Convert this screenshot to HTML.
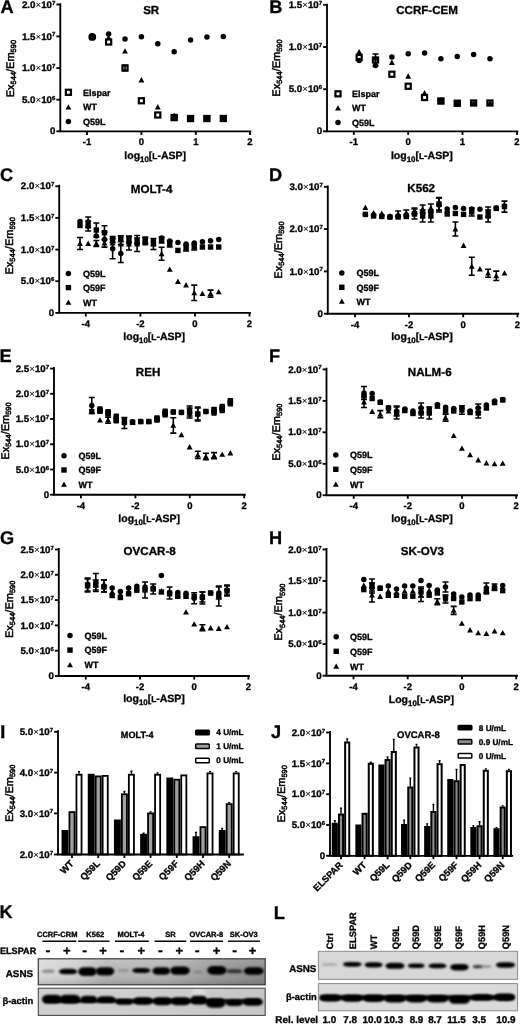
<!DOCTYPE html>
<html lang="en">
<head>
<meta charset="utf-8">
<title>Figure</title>
<style>
html,body{margin:0;padding:0;background:#fff;}
body{width:520px;height:1024px;overflow:hidden;}
svg.fig{display:block;font-family:"Liberation Sans",sans-serif;filter:blur(.45px);}
svg.fig text{stroke:#000;stroke-width:.32px;stroke-linejoin:round;}
svg.fig text.r{stroke-width:.5px;}
svg.fig tspan.x{stroke:none;}
</style>
</head>
<body>
<svg width="520" height="1024" viewBox="0 0 520 1024" class="fig" fill="#000" text-rendering="geometricPrecision">
<rect width="520" height="1024" fill="#fff"/>
<defs>
<filter id="b1" x="-20%" y="-60%" width="140%" height="220%"><feGaussianBlur stdDeviation="1.15 0.85"/></filter>
<filter id="b2" x="-20%" y="-60%" width="140%" height="220%"><feGaussianBlur stdDeviation="1.5 1.0"/></filter>
<linearGradient id="gK1" x1="0" x2="1" y1="0" y2="0"><stop offset="0" stop-color="#d9d9d9"/><stop offset="0.15" stop-color="#d0d0d0"/><stop offset="0.3" stop-color="#b6b6b6"/><stop offset="0.55" stop-color="#b2b2b2"/><stop offset="0.8" stop-color="#969696"/><stop offset="1" stop-color="#888888"/></linearGradient>
<linearGradient id="gKv" x1="0" x2="0" y1="0" y2="1"><stop offset="0" stop-color="#fff" stop-opacity="0.18"/><stop offset="0.5" stop-color="#fff" stop-opacity="0"/><stop offset="1" stop-color="#000" stop-opacity="0.16"/></linearGradient>
<linearGradient id="gK2" x1="0" x2="1" y1="0" y2="0"><stop offset="0" stop-color="#cfcfcf"/><stop offset="0.5" stop-color="#cdcdcd"/><stop offset="1" stop-color="#c6c6c6"/></linearGradient>
<clipPath id="cK1"><rect x="38.3" y="958.8" width="226.9" height="26"/></clipPath>
<clipPath id="cK2"><rect x="38.3" y="988.2" width="226.9" height="27.2"/></clipPath>
<clipPath id="cL1"><rect x="318.4" y="951.3" width="199.2" height="28"/></clipPath>
<clipPath id="cL2"><rect x="318.4" y="983.6" width="199.2" height="27.2"/></clipPath>
</defs>
<g>
<path d="M60.3 4.2V131.3H250.4" fill="none" stroke="#000" stroke-width="1.85" stroke-linecap="square"/>
<path d="M56.4 4.5H60.3" stroke="#000" stroke-width="1.85"/>
<text transform="translate(55.4 7.63) scale(1.025 1)" font-size="9.5" font-weight="bold" text-anchor="end">2.0<tspan class="x" font-weight="normal">×</tspan>10<tspan dy="-3.14" font-size="5.89">7</tspan></text>
<path d="M56.4 36.4H60.3" stroke="#000" stroke-width="1.85"/>
<text transform="translate(55.4 39.53) scale(1.025 1)" font-size="9.5" font-weight="bold" text-anchor="end">1.5<tspan class="x" font-weight="normal">×</tspan>10<tspan dy="-3.14" font-size="5.89">7</tspan></text>
<path d="M56.4 68.1H60.3" stroke="#000" stroke-width="1.85"/>
<text transform="translate(55.4 71.23) scale(1.025 1)" font-size="9.5" font-weight="bold" text-anchor="end">1.0<tspan class="x" font-weight="normal">×</tspan>10<tspan dy="-3.14" font-size="5.89">7</tspan></text>
<path d="M56.4 99.7H60.3" stroke="#000" stroke-width="1.85"/>
<text transform="translate(55.4 102.84) scale(1.025 1)" font-size="9.5" font-weight="bold" text-anchor="end">5.0<tspan class="x" font-weight="normal">×</tspan>10<tspan dy="-3.14" font-size="5.89">6</tspan></text>
<path d="M56.4 131.3H60.3" stroke="#000" stroke-width="1.85"/>
<text transform="translate(55.4 134.44) scale(1.025 1)" font-size="9.5" font-weight="bold" text-anchor="end">0</text>
<path d="M87 131.3V134.9" stroke="#000" stroke-width="1.85"/>
<text x="87" y="145.2" font-size="9.5" font-weight="bold" text-anchor="middle">-1</text>
<path d="M141.4 131.3V134.9" stroke="#000" stroke-width="1.85"/>
<text x="141.4" y="145.2" font-size="9.5" font-weight="bold" text-anchor="middle">0</text>
<path d="M195.8 131.3V134.9" stroke="#000" stroke-width="1.85"/>
<text x="195.8" y="145.2" font-size="9.5" font-weight="bold" text-anchor="middle">1</text>
<path d="M250 131.3V134.9" stroke="#000" stroke-width="1.85"/>
<text x="250" y="145.2" font-size="9.5" font-weight="bold" text-anchor="middle">2</text>
<text x="0.4" y="13.2" font-size="18.2" font-weight="bold" text-anchor="start">A</text>
<text x="151.2" y="13.8" font-size="11.6" font-weight="bold" text-anchor="middle">SR</text>
<text transform="translate(13.6 68.6) rotate(-90)" class="r" font-size="11" font-weight="normal" text-anchor="middle">Ex<tspan dy="2.2" font-size="7.48">544</tspan><tspan dy="-2.2">/Em</tspan><tspan dy="2.2" font-size="7.48">590</tspan></text>
<text x="155.2" y="158.8" font-size="10.5" font-weight="bold" text-anchor="middle">log<tspan dy="2.83" font-size="7.88">10</tspan><tspan dy="-2.83">[</tspan><tspan font-size="8.4">L</tspan>-ASP]</text>
<rect x="65.85" y="89.75" width="5.1" height="5.1" fill="none" stroke="#000" stroke-width="2.2"/>
<text x="83" y="95.5" font-size="9" font-weight="bold" text-anchor="start">Elspar</text>
<path d="M68.4 104.28L71.35 109.59L65.45 109.59Z"/>
<text x="83" y="110.4" font-size="9" font-weight="bold" text-anchor="start">WT</text>
<circle cx="68.4" cy="121.5" r="2.75"/>
<text x="83" y="124.7" font-size="9" font-weight="bold" text-anchor="start">Q59L</text>
<circle cx="92.26" cy="36.8" r="2.75"/>
<circle cx="108.64" cy="34" r="2.75"/>
<circle cx="125.02" cy="39" r="2.75"/>
<circle cx="141.4" cy="36.75" r="2.75"/>
<circle cx="157.78" cy="43.75" r="2.75"/>
<circle cx="174.16" cy="51.75" r="2.75"/>
<circle cx="190.54" cy="40" r="2.75"/>
<circle cx="206.92" cy="37" r="2.75"/>
<circle cx="223.3" cy="36.5" r="2.75"/>
<path d="M92.26 33.69L95.21 38.98L89.31 38.98Z"/>
<path d="M108.64 34.59L111.59 39.88L105.69 39.88Z"/>
<path d="M125.02 48.29L127.97 53.59L122.07 53.59Z"/>
<path d="M141.4 77.08L144.35 82.39L138.45 82.39Z"/>
<path d="M157.78 104.08L160.73 109.39L154.83 109.39Z"/>
<path d="M174.16 112.58L177.11 117.89L171.21 117.89Z"/>
<path d="M190.54 115.58L193.49 120.89L187.59 120.89Z"/>
<path d="M206.92 115.58L209.87 120.89L203.97 120.89Z"/>
<path d="M223.3 115.58L226.25 120.89L220.35 120.89Z"/>
<path d="M125.02 65.4V70.6M122.02 65.4H128.02M122.02 70.6H128.02" fill="none" stroke="#000" stroke-width="1.6"/>
<rect x="106.09" y="39.45" width="5.1" height="5.1" fill="none" stroke="#000" stroke-width="2.2"/>
<rect x="122.47" y="65.45" width="5.1" height="5.1" fill="none" stroke="#000" stroke-width="2.2"/>
<rect x="138.85" y="98.2" width="5.1" height="5.1" fill="none" stroke="#000" stroke-width="2.2"/>
<rect x="155.23" y="112.45" width="5.1" height="5.1" fill="none" stroke="#000" stroke-width="2.2"/>
<rect x="171.61" y="114.95" width="5.1" height="5.1" fill="none" stroke="#000" stroke-width="2.2"/>
<rect x="187.99" y="115.95" width="5.1" height="5.1" fill="none" stroke="#000" stroke-width="2.2"/>
<rect x="204.37" y="115.95" width="5.1" height="5.1" fill="none" stroke="#000" stroke-width="2.2"/>
<rect x="220.75" y="115.95" width="5.1" height="5.1" fill="none" stroke="#000" stroke-width="2.2"/>
<circle cx="92.26" cy="36.9" r="3.9"/>
<rect x="170.86" y="114.5" width="6.6" height="6.6"/>
<rect x="187.24" y="115.2" width="6.6" height="6.6"/>
<rect x="203.62" y="115.2" width="6.6" height="6.6"/>
<rect x="220" y="115.2" width="6.6" height="6.6"/>
</g>
<g>
<path d="M327 4.6V131.3H517.4" fill="none" stroke="#000" stroke-width="1.85" stroke-linecap="square"/>
<path d="M323.1 4.8H327" stroke="#000" stroke-width="1.85"/>
<text transform="translate(322.1 7.94) scale(1.025 1)" font-size="9.5" font-weight="bold" text-anchor="end">1.5<tspan class="x" font-weight="normal">×</tspan>10<tspan dy="-3.14" font-size="5.89">7</tspan></text>
<path d="M323.1 47H327" stroke="#000" stroke-width="1.85"/>
<text transform="translate(322.1 50.13) scale(1.025 1)" font-size="9.5" font-weight="bold" text-anchor="end">1.0<tspan class="x" font-weight="normal">×</tspan>10<tspan dy="-3.14" font-size="5.89">7</tspan></text>
<path d="M323.1 89.2H327" stroke="#000" stroke-width="1.85"/>
<text transform="translate(322.1 92.34) scale(1.025 1)" font-size="9.5" font-weight="bold" text-anchor="end">5.0<tspan class="x" font-weight="normal">×</tspan>10<tspan dy="-3.14" font-size="5.89">6</tspan></text>
<path d="M323.1 131.3H327" stroke="#000" stroke-width="1.85"/>
<text transform="translate(322.1 134.44) scale(1.025 1)" font-size="9.5" font-weight="bold" text-anchor="end">0</text>
<path d="M353.8 131.3V134.9" stroke="#000" stroke-width="1.85"/>
<text x="353.8" y="145.2" font-size="9.5" font-weight="bold" text-anchor="middle">-1</text>
<path d="M408.2 131.3V134.9" stroke="#000" stroke-width="1.85"/>
<text x="408.2" y="145.2" font-size="9.5" font-weight="bold" text-anchor="middle">0</text>
<path d="M462.5 131.3V134.9" stroke="#000" stroke-width="1.85"/>
<text x="462.5" y="145.2" font-size="9.5" font-weight="bold" text-anchor="middle">1</text>
<path d="M517 131.3V134.9" stroke="#000" stroke-width="1.85"/>
<text x="517" y="145.2" font-size="9.5" font-weight="bold" text-anchor="middle">2</text>
<text x="269.2" y="12.6" font-size="18.2" font-weight="bold" text-anchor="start">B</text>
<text x="427.1" y="13.6" font-size="11.6" font-weight="bold" text-anchor="middle">CCRF-CEM</text>
<text transform="translate(280 68) rotate(-90)" class="r" font-size="11" font-weight="normal" text-anchor="middle">Ex<tspan dy="2.2" font-size="7.48">544</tspan><tspan dy="-2.2">/Em</tspan><tspan dy="2.2" font-size="7.48">590</tspan></text>
<text x="421.8" y="158.8" font-size="10.5" font-weight="bold" text-anchor="middle">log<tspan dy="2.83" font-size="7.88">10</tspan><tspan dy="-2.83">[</tspan><tspan font-size="8.4">L</tspan>-ASP]</text>
<rect x="335.45" y="91.25" width="5.1" height="5.1" fill="none" stroke="#000" stroke-width="2.2"/>
<text x="352" y="97" font-size="9" font-weight="bold" text-anchor="start">Elspar</text>
<path d="M338 105.28L340.95 110.59L335.05 110.59Z"/>
<text x="352" y="111.4" font-size="9" font-weight="bold" text-anchor="start">WT</text>
<circle cx="338" cy="122.5" r="2.75"/>
<text x="352" y="125.7" font-size="9" font-weight="bold" text-anchor="start">Q59L</text>
<circle cx="359.15" cy="60.5" r="2.75"/>
<circle cx="375.5" cy="65.5" r="2.75"/>
<circle cx="391.85" cy="57" r="2.75"/>
<circle cx="408.2" cy="53.75" r="2.75"/>
<circle cx="424.55" cy="53" r="2.75"/>
<circle cx="440.9" cy="58.75" r="2.75"/>
<circle cx="457.25" cy="56.5" r="2.75"/>
<circle cx="473.6" cy="54.5" r="2.75"/>
<circle cx="489.95" cy="58.75" r="2.75"/>
<path d="M359.15 48.88L362.1 54.18L356.2 54.18Z"/>
<path d="M375.5 55.09L378.45 60.38L372.55 60.38Z"/>
<path d="M391.85 59.59L394.8 64.89L388.9 64.89Z"/>
<path d="M408.2 73.33L411.15 78.64L405.25 78.64Z"/>
<path d="M424.55 90.08L427.5 95.39L421.6 95.39Z"/>
<path d="M440.9 98.58L443.85 103.89L437.95 103.89Z"/>
<path d="M457.25 100.08L460.2 105.39L454.3 105.39Z"/>
<path d="M473.6 100.08L476.55 105.39L470.65 105.39Z"/>
<path d="M489.95 100.08L492.9 105.39L487 105.39Z"/>
<path d="M375.5 54V66M372.5 54H378.5M372.5 66H378.5" fill="none" stroke="#000" stroke-width="1.6"/>
<rect x="356.6" y="54.95" width="5.1" height="5.1" fill="none" stroke="#000" stroke-width="2.2"/>
<rect x="372.95" y="57.45" width="5.1" height="5.1" fill="none" stroke="#000" stroke-width="2.2"/>
<rect x="389.3" y="71.7" width="5.1" height="5.1" fill="none" stroke="#000" stroke-width="2.2"/>
<rect x="405.65" y="83.7" width="5.1" height="5.1" fill="none" stroke="#000" stroke-width="2.2"/>
<rect x="422" y="94.95" width="5.1" height="5.1" fill="none" stroke="#000" stroke-width="2.2"/>
<rect x="438.35" y="98.45" width="5.1" height="5.1" fill="none" stroke="#000" stroke-width="2.2"/>
<rect x="454.7" y="100.7" width="5.1" height="5.1" fill="none" stroke="#000" stroke-width="2.2"/>
<rect x="471.05" y="100.45" width="5.1" height="5.1" fill="none" stroke="#000" stroke-width="2.2"/>
<rect x="487.4" y="100.45" width="5.1" height="5.1" fill="none" stroke="#000" stroke-width="2.2"/>
<rect x="437.6" y="97.7" width="6.6" height="6.6"/>
<rect x="453.95" y="99.95" width="6.6" height="6.6"/>
</g>
<g>
<path d="M59.2 185.6V312.9H250" fill="none" stroke="#000" stroke-width="1.85" stroke-linecap="square"/>
<path d="M55.3 186.3H59.2" stroke="#000" stroke-width="1.85"/>
<text transform="translate(54.3 189.44) scale(1.025 1)" font-size="9.5" font-weight="bold" text-anchor="end">2.0<tspan class="x" font-weight="normal">×</tspan>10<tspan dy="-3.14" font-size="5.89">7</tspan></text>
<path d="M55.3 217.9H59.2" stroke="#000" stroke-width="1.85"/>
<text transform="translate(54.3 221.03) scale(1.025 1)" font-size="9.5" font-weight="bold" text-anchor="end">1.5<tspan class="x" font-weight="normal">×</tspan>10<tspan dy="-3.14" font-size="5.89">7</tspan></text>
<path d="M55.3 249.6H59.2" stroke="#000" stroke-width="1.85"/>
<text transform="translate(54.3 252.73) scale(1.025 1)" font-size="9.5" font-weight="bold" text-anchor="end">1.0<tspan class="x" font-weight="normal">×</tspan>10<tspan dy="-3.14" font-size="5.89">7</tspan></text>
<path d="M55.3 281.2H59.2" stroke="#000" stroke-width="1.85"/>
<text transform="translate(54.3 284.33) scale(1.025 1)" font-size="9.5" font-weight="bold" text-anchor="end">5.0<tspan class="x" font-weight="normal">×</tspan>10<tspan dy="-3.14" font-size="5.89">6</tspan></text>
<path d="M55.3 312.9H59.2" stroke="#000" stroke-width="1.85"/>
<text transform="translate(54.3 316.03) scale(1.025 1)" font-size="9.5" font-weight="bold" text-anchor="end">0</text>
<path d="M85.8 312.9V316.5" stroke="#000" stroke-width="1.85"/>
<text x="85.8" y="326.8" font-size="9.5" font-weight="bold" text-anchor="middle">-4</text>
<path d="M140.4 312.9V316.5" stroke="#000" stroke-width="1.85"/>
<text x="140.4" y="326.8" font-size="9.5" font-weight="bold" text-anchor="middle">-2</text>
<path d="M195 312.9V316.5" stroke="#000" stroke-width="1.85"/>
<text x="195" y="326.8" font-size="9.5" font-weight="bold" text-anchor="middle">0</text>
<path d="M249.5 312.9V316.5" stroke="#000" stroke-width="1.85"/>
<text x="249.5" y="326.8" font-size="9.5" font-weight="bold" text-anchor="middle">2</text>
<text x="0" y="180.6" font-size="18.2" font-weight="bold" text-anchor="start">C</text>
<text x="151.6" y="192.7" font-size="11.6" font-weight="bold" text-anchor="middle">MOLT-4</text>
<text transform="translate(13 245.8) rotate(-90)" class="r" font-size="11" font-weight="normal" text-anchor="middle">Ex<tspan dy="2.2" font-size="7.48">544</tspan><tspan dy="-2.2">/Em</tspan><tspan dy="2.2" font-size="7.48">590</tspan></text>
<text x="154.2" y="339.7" font-size="10.5" font-weight="bold" text-anchor="middle">log<tspan dy="2.83" font-size="7.88">10</tspan><tspan dy="-2.83">[</tspan><tspan font-size="8.4">L</tspan>-ASP]</text>
<circle cx="68.4" cy="273.5" r="2.75"/>
<text x="83" y="276.7" font-size="9" font-weight="bold" text-anchor="start">Q59L</text>
<rect x="65.7" y="284.9" width="5.4" height="5.4"/>
<text x="83" y="290.8" font-size="9" font-weight="bold" text-anchor="start">Q59F</text>
<path d="M68.4 299.48L71.35 304.78L65.45 304.78Z"/>
<text x="83" y="305.6" font-size="9" font-weight="bold" text-anchor="start">WT</text>
<path d="M88.16 217V227M85.16 217H91.16M85.16 227H91.16" fill="none" stroke="#000" stroke-width="1.6"/>
<path d="M104.48 232.1V247.1M101.48 232.1H107.48M101.48 247.1H107.48" fill="none" stroke="#000" stroke-width="1.6"/>
<path d="M112.64 238.8V258.8M109.64 238.8H115.64M109.64 258.8H115.64" fill="none" stroke="#000" stroke-width="1.6"/>
<path d="M120.8 244.5V262.5M117.8 244.5H123.8M117.8 262.5H123.8" fill="none" stroke="#000" stroke-width="1.6"/>
<path d="M128.96 236V250M125.96 236H131.96M125.96 250H131.96" fill="none" stroke="#000" stroke-width="1.6"/>
<path d="M137.12 235.5V251.5M134.12 235.5H140.12M134.12 251.5H140.12" fill="none" stroke="#000" stroke-width="1.6"/>
<path d="M145.28 238V244M142.28 238H148.28M142.28 244H148.28" fill="none" stroke="#000" stroke-width="1.6"/>
<circle cx="80" cy="221.5" r="2.75"/>
<circle cx="88.16" cy="222" r="2.75"/>
<circle cx="96.32" cy="236" r="2.75"/>
<circle cx="104.48" cy="239.6" r="2.75"/>
<circle cx="112.64" cy="248.8" r="2.75"/>
<circle cx="120.8" cy="253.5" r="2.75"/>
<circle cx="128.96" cy="243" r="2.75"/>
<circle cx="137.12" cy="243.5" r="2.75"/>
<circle cx="145.28" cy="241" r="2.75"/>
<circle cx="153.44" cy="241" r="2.75"/>
<circle cx="161.6" cy="238" r="2.75"/>
<circle cx="169.76" cy="241" r="2.75"/>
<circle cx="177.92" cy="242.6" r="2.75"/>
<circle cx="186.08" cy="244" r="2.75"/>
<circle cx="194.24" cy="243" r="2.75"/>
<circle cx="202.4" cy="241.7" r="2.75"/>
<circle cx="210.56" cy="240.8" r="2.75"/>
<circle cx="218.72" cy="239.6" r="2.75"/>
<path d="M88.16 221V231M85.16 221H91.16M85.16 231H91.16" fill="none" stroke="#000" stroke-width="1.6"/>
<path d="M96.32 223V237M93.32 223H99.32M93.32 237H99.32" fill="none" stroke="#000" stroke-width="1.6"/>
<path d="M104.48 225.7V239.7M101.48 225.7H107.48M101.48 239.7H107.48" fill="none" stroke="#000" stroke-width="1.6"/>
<path d="M112.64 236.6V242.6M109.64 236.6H115.64M109.64 242.6H115.64" fill="none" stroke="#000" stroke-width="1.6"/>
<path d="M120.8 235.8V241.8M117.8 235.8H123.8M117.8 241.8H123.8" fill="none" stroke="#000" stroke-width="1.6"/>
<path d="M128.96 236.6V242.6M125.96 236.6H131.96M125.96 242.6H131.96" fill="none" stroke="#000" stroke-width="1.6"/>
<path d="M137.12 238V244M134.12 238H140.12M134.12 244H140.12" fill="none" stroke="#000" stroke-width="1.6"/>
<path d="M145.28 237V243M142.28 237H148.28M142.28 243H148.28" fill="none" stroke="#000" stroke-width="1.6"/>
<path d="M153.44 238.5V249.5M150.44 238.5H156.44M150.44 249.5H156.44" fill="none" stroke="#000" stroke-width="1.6"/>
<path d="M161.6 237V243M158.6 237H164.6M158.6 243H164.6" fill="none" stroke="#000" stroke-width="1.6"/>
<path d="M169.76 241V247M166.76 241H172.76M166.76 247H172.76" fill="none" stroke="#000" stroke-width="1.6"/>
<path d="M186.08 245V251M183.08 245H189.08M183.08 251H189.08" fill="none" stroke="#000" stroke-width="1.6"/>
<path d="M194.24 244V250M191.24 244H197.24M191.24 250H197.24" fill="none" stroke="#000" stroke-width="1.6"/>
<rect x="77.3" y="222.8" width="5.4" height="5.4"/>
<rect x="85.46" y="223.3" width="5.4" height="5.4"/>
<rect x="93.62" y="227.3" width="5.4" height="5.4"/>
<rect x="101.78" y="230" width="5.4" height="5.4"/>
<rect x="109.94" y="236.9" width="5.4" height="5.4"/>
<rect x="118.1" y="236.1" width="5.4" height="5.4"/>
<rect x="126.26" y="236.9" width="5.4" height="5.4"/>
<rect x="134.42" y="238.3" width="5.4" height="5.4"/>
<rect x="142.58" y="237.3" width="5.4" height="5.4"/>
<rect x="150.74" y="241.3" width="5.4" height="5.4"/>
<rect x="158.9" y="237.3" width="5.4" height="5.4"/>
<rect x="167.06" y="241.3" width="5.4" height="5.4"/>
<rect x="175.22" y="247.7" width="5.4" height="5.4"/>
<rect x="183.38" y="245.3" width="5.4" height="5.4"/>
<rect x="191.54" y="244.3" width="5.4" height="5.4"/>
<rect x="199.7" y="244.3" width="5.4" height="5.4"/>
<rect x="207.86" y="244.3" width="5.4" height="5.4"/>
<rect x="216.02" y="244.3" width="5.4" height="5.4"/>
<path d="M80 237.5V249.5M77 237.5H83M77 249.5H83" fill="none" stroke="#000" stroke-width="1.6"/>
<path d="M96.32 240.5V246.5M93.32 240.5H99.32M93.32 246.5H99.32" fill="none" stroke="#000" stroke-width="1.6"/>
<path d="M161.6 247.3V260.3M158.6 247.3H164.6M158.6 260.3H164.6" fill="none" stroke="#000" stroke-width="1.6"/>
<path d="M194.24 285.1V300.5M191.24 285.1H197.24M191.24 300.5H197.24" fill="none" stroke="#000" stroke-width="1.6"/>
<path d="M210.56 290.1V297.1M207.56 290.1H213.56M207.56 297.1H213.56" fill="none" stroke="#000" stroke-width="1.6"/>
<path d="M80 240.59L82.95 245.88L77.05 245.88Z"/>
<path d="M88.16 240.59L91.11 245.88L85.21 245.88Z"/>
<path d="M96.32 240.59L99.27 245.88L93.37 245.88Z"/>
<path d="M104.48 240.09L107.43 245.38L101.53 245.38Z"/>
<path d="M112.64 240.09L115.59 245.38L109.69 245.38Z"/>
<path d="M120.8 241.09L123.75 246.38L117.85 246.38Z"/>
<path d="M128.96 241.09L131.91 246.38L126.01 246.38Z"/>
<path d="M137.12 241.09L140.07 246.38L134.17 246.38Z"/>
<path d="M145.28 240.09L148.23 245.38L142.33 245.38Z"/>
<path d="M153.44 240.09L156.39 245.38L150.49 245.38Z"/>
<path d="M161.6 250.89L164.55 256.19L158.65 256.19Z"/>
<path d="M169.76 266.48L172.71 271.78L166.81 271.78Z"/>
<path d="M177.92 278.58L180.87 283.88L174.97 283.88Z"/>
<path d="M186.08 282.08L189.03 287.38L183.13 287.38Z"/>
<path d="M194.24 289.88L197.19 295.19L191.29 295.19Z"/>
<path d="M202.4 290.69L205.35 295.99L199.45 295.99Z"/>
<path d="M210.56 290.69L213.51 295.99L207.61 295.99Z"/>
<path d="M218.72 288.98L221.67 294.28L215.77 294.28Z"/>
</g>
<g>
<path d="M327.8 186.4V313.7H518.2" fill="none" stroke="#000" stroke-width="1.85" stroke-linecap="square"/>
<path d="M323.9 186.8H327.8" stroke="#000" stroke-width="1.85"/>
<text transform="translate(322.9 189.94) scale(1.025 1)" font-size="9.5" font-weight="bold" text-anchor="end">3.0<tspan class="x" font-weight="normal">×</tspan>10<tspan dy="-3.14" font-size="5.89">7</tspan></text>
<path d="M323.9 229.1H327.8" stroke="#000" stroke-width="1.85"/>
<text transform="translate(322.9 232.23) scale(1.025 1)" font-size="9.5" font-weight="bold" text-anchor="end">2.0<tspan class="x" font-weight="normal">×</tspan>10<tspan dy="-3.14" font-size="5.89">7</tspan></text>
<path d="M323.9 271.4H327.8" stroke="#000" stroke-width="1.85"/>
<text transform="translate(322.9 274.53) scale(1.025 1)" font-size="9.5" font-weight="bold" text-anchor="end">1.0<tspan class="x" font-weight="normal">×</tspan>10<tspan dy="-3.14" font-size="5.89">7</tspan></text>
<path d="M323.9 313.7H327.8" stroke="#000" stroke-width="1.85"/>
<text transform="translate(322.9 316.83) scale(1.025 1)" font-size="9.5" font-weight="bold" text-anchor="end">0</text>
<path d="M355 313.7V317.3" stroke="#000" stroke-width="1.85"/>
<text x="355" y="327.6" font-size="9.5" font-weight="bold" text-anchor="middle">-4</text>
<path d="M409 313.7V317.3" stroke="#000" stroke-width="1.85"/>
<text x="409" y="327.6" font-size="9.5" font-weight="bold" text-anchor="middle">-2</text>
<path d="M463.2 313.7V317.3" stroke="#000" stroke-width="1.85"/>
<text x="463.2" y="327.6" font-size="9.5" font-weight="bold" text-anchor="middle">0</text>
<path d="M517.5 313.7V317.3" stroke="#000" stroke-width="1.85"/>
<text x="517.5" y="327.6" font-size="9.5" font-weight="bold" text-anchor="middle">2</text>
<text x="269.1" y="180.8" font-size="18.2" font-weight="bold" text-anchor="start">D</text>
<text x="421.2" y="191.9" font-size="11.6" font-weight="bold" text-anchor="middle">K562</text>
<text transform="translate(281.5 250) rotate(-90)" class="r" font-size="11" font-weight="normal" text-anchor="middle">Ex<tspan dy="2.2" font-size="7.48">544</tspan><tspan dy="-2.2">/Em</tspan><tspan dy="2.2" font-size="7.48">590</tspan></text>
<text x="422" y="340.4" font-size="10.5" font-weight="bold" text-anchor="middle">log<tspan dy="2.83" font-size="7.88">10</tspan><tspan dy="-2.83">[</tspan><tspan font-size="8.4">L</tspan>-ASP]</text>
<circle cx="341.8" cy="273" r="2.75"/>
<text x="356.4" y="276.2" font-size="9" font-weight="bold" text-anchor="start">Q59L</text>
<rect x="339.1" y="284.6" width="5.4" height="5.4"/>
<text x="356.4" y="290.5" font-size="9" font-weight="bold" text-anchor="start">Q59F</text>
<path d="M341.8 298.48L344.75 303.78L338.85 303.78Z"/>
<text x="356.4" y="304.6" font-size="9" font-weight="bold" text-anchor="start">WT</text>
<path d="M439.02 198V212M436.02 198H442.02M436.02 212H442.02" fill="none" stroke="#000" stroke-width="1.6"/>
<path d="M488.1 207V217M485.1 207H491.1M485.1 217H491.1" fill="none" stroke="#000" stroke-width="1.6"/>
<circle cx="365.4" cy="214.5" r="2.75"/>
<circle cx="373.58" cy="215" r="2.75"/>
<circle cx="381.76" cy="216" r="2.75"/>
<circle cx="389.94" cy="217" r="2.75"/>
<circle cx="398.12" cy="216" r="2.75"/>
<circle cx="406.3" cy="215" r="2.75"/>
<circle cx="414.48" cy="213" r="2.75"/>
<circle cx="422.66" cy="213" r="2.75"/>
<circle cx="430.84" cy="212" r="2.75"/>
<circle cx="439.02" cy="205" r="2.75"/>
<circle cx="447.2" cy="209" r="2.75"/>
<circle cx="455.38" cy="207.5" r="2.75"/>
<circle cx="463.56" cy="208.4" r="2.75"/>
<circle cx="471.74" cy="209" r="2.75"/>
<circle cx="479.92" cy="209.2" r="2.75"/>
<circle cx="488.1" cy="212" r="2.75"/>
<circle cx="496.28" cy="208" r="2.75"/>
<circle cx="504.46" cy="206" r="2.75"/>
<path d="M414.48 209V219M411.48 209H417.48M411.48 219H417.48" fill="none" stroke="#000" stroke-width="1.6"/>
<path d="M422.66 210V222M419.66 210H425.66M419.66 222H425.66" fill="none" stroke="#000" stroke-width="1.6"/>
<path d="M430.84 210V222M427.84 210H433.84M427.84 222H433.84" fill="none" stroke="#000" stroke-width="1.6"/>
<path d="M439.02 197.5V210.5M436.02 197.5H442.02M436.02 210.5H442.02" fill="none" stroke="#000" stroke-width="1.6"/>
<path d="M471.74 208V216M468.74 208H474.74M468.74 216H474.74" fill="none" stroke="#000" stroke-width="1.6"/>
<path d="M488.1 210V222M485.1 210H491.1M485.1 222H491.1" fill="none" stroke="#000" stroke-width="1.6"/>
<path d="M504.46 201.1V212.1M501.46 201.1H507.46M501.46 212.1H507.46" fill="none" stroke="#000" stroke-width="1.6"/>
<rect x="362.7" y="211.7" width="5.4" height="5.4"/>
<rect x="370.88" y="213.3" width="5.4" height="5.4"/>
<rect x="379.06" y="213.8" width="5.4" height="5.4"/>
<rect x="387.24" y="214.3" width="5.4" height="5.4"/>
<rect x="395.42" y="214.3" width="5.4" height="5.4"/>
<rect x="403.6" y="213.8" width="5.4" height="5.4"/>
<rect x="411.78" y="211.3" width="5.4" height="5.4"/>
<rect x="419.96" y="213.3" width="5.4" height="5.4"/>
<rect x="428.14" y="213.3" width="5.4" height="5.4"/>
<rect x="436.32" y="201.3" width="5.4" height="5.4"/>
<rect x="444.5" y="211.3" width="5.4" height="5.4"/>
<rect x="452.68" y="210.8" width="5.4" height="5.4"/>
<rect x="460.86" y="211.7" width="5.4" height="5.4"/>
<rect x="469.04" y="209.3" width="5.4" height="5.4"/>
<rect x="477.22" y="214.3" width="5.4" height="5.4"/>
<rect x="485.4" y="213.3" width="5.4" height="5.4"/>
<rect x="493.58" y="205.7" width="5.4" height="5.4"/>
<rect x="501.76" y="203.9" width="5.4" height="5.4"/>
<path d="M398.12 211V217M395.12 211H401.12M395.12 217H401.12" fill="none" stroke="#000" stroke-width="1.6"/>
<path d="M406.3 210V216M403.3 210H409.3M403.3 216H409.3" fill="none" stroke="#000" stroke-width="1.6"/>
<path d="M414.48 208V214M411.48 208H417.48M411.48 214H417.48" fill="none" stroke="#000" stroke-width="1.6"/>
<path d="M422.66 205V213M419.66 205H425.66M419.66 213H425.66" fill="none" stroke="#000" stroke-width="1.6"/>
<path d="M430.84 204V212M427.84 204H433.84M427.84 212H433.84" fill="none" stroke="#000" stroke-width="1.6"/>
<path d="M439.02 198V210M436.02 198H442.02M436.02 210H442.02" fill="none" stroke="#000" stroke-width="1.6"/>
<path d="M455.38 222V236M452.38 222H458.38M452.38 236H458.38" fill="none" stroke="#000" stroke-width="1.6"/>
<path d="M471.74 257.3V275.3M468.74 257.3H474.74M468.74 275.3H474.74" fill="none" stroke="#000" stroke-width="1.6"/>
<path d="M488.1 269.2V277.2M485.1 269.2H491.1M485.1 277.2H491.1" fill="none" stroke="#000" stroke-width="1.6"/>
<path d="M496.28 271.1V280.5M493.28 271.1H499.28M493.28 280.5H499.28" fill="none" stroke="#000" stroke-width="1.6"/>
<path d="M365.4 204.59L368.35 209.88L362.45 209.88Z"/>
<path d="M373.58 210.09L376.53 215.38L370.63 215.38Z"/>
<path d="M381.76 210.59L384.71 215.88L378.81 215.88Z"/>
<path d="M389.94 213.09L392.89 218.38L386.99 218.38Z"/>
<path d="M398.12 211.09L401.07 216.38L395.17 216.38Z"/>
<path d="M406.3 210.09L409.25 215.38L403.35 215.38Z"/>
<path d="M414.48 208.09L417.43 213.38L411.53 213.38Z"/>
<path d="M422.66 206.09L425.61 211.38L419.71 211.38Z"/>
<path d="M430.84 205.09L433.79 210.38L427.89 210.38Z"/>
<path d="M439.02 201.09L441.97 206.38L436.07 206.38Z"/>
<path d="M447.2 207.09L450.15 212.38L444.25 212.38Z"/>
<path d="M455.38 226.09L458.33 231.38L452.43 231.38Z"/>
<path d="M463.56 242.59L466.51 247.88L460.61 247.88Z"/>
<path d="M471.74 263.38L474.69 268.69L468.79 268.69Z"/>
<path d="M479.92 266.08L482.87 271.38L476.97 271.38Z"/>
<path d="M488.1 270.28L491.05 275.58L485.15 275.58Z"/>
<path d="M496.28 272.88L499.23 278.19L493.33 278.19Z"/>
<path d="M504.46 270.28L507.41 275.58L501.51 275.58Z"/>
</g>
<g>
<path d="M54 367.8V494.7H244.8" fill="none" stroke="#000" stroke-width="1.85" stroke-linecap="square"/>
<path d="M50.1 368.6H54" stroke="#000" stroke-width="1.85"/>
<text transform="translate(49.1 371.74) scale(1.025 1)" font-size="9.5" font-weight="bold" text-anchor="end">2.5<tspan class="x" font-weight="normal">×</tspan>10<tspan dy="-3.14" font-size="5.89">7</tspan></text>
<path d="M50.1 393.8H54" stroke="#000" stroke-width="1.85"/>
<text transform="translate(49.1 396.94) scale(1.025 1)" font-size="9.5" font-weight="bold" text-anchor="end">2.0<tspan class="x" font-weight="normal">×</tspan>10<tspan dy="-3.14" font-size="5.89">7</tspan></text>
<path d="M50.1 419H54" stroke="#000" stroke-width="1.85"/>
<text transform="translate(49.1 422.13) scale(1.025 1)" font-size="9.5" font-weight="bold" text-anchor="end">1.5<tspan class="x" font-weight="normal">×</tspan>10<tspan dy="-3.14" font-size="5.89">7</tspan></text>
<path d="M50.1 444.3H54" stroke="#000" stroke-width="1.85"/>
<text transform="translate(49.1 447.44) scale(1.025 1)" font-size="9.5" font-weight="bold" text-anchor="end">1.0<tspan class="x" font-weight="normal">×</tspan>10<tspan dy="-3.14" font-size="5.89">7</tspan></text>
<path d="M50.1 469.5H54" stroke="#000" stroke-width="1.85"/>
<text transform="translate(49.1 472.63) scale(1.025 1)" font-size="9.5" font-weight="bold" text-anchor="end">5.0<tspan class="x" font-weight="normal">×</tspan>10<tspan dy="-3.14" font-size="5.89">6</tspan></text>
<path d="M50.1 494.7H54" stroke="#000" stroke-width="1.85"/>
<text transform="translate(49.1 497.83) scale(1.025 1)" font-size="9.5" font-weight="bold" text-anchor="end">0</text>
<path d="M80.9 494.7V498.3" stroke="#000" stroke-width="1.85"/>
<text x="80.9" y="508.6" font-size="9.5" font-weight="bold" text-anchor="middle">-4</text>
<path d="M135.4 494.7V498.3" stroke="#000" stroke-width="1.85"/>
<text x="135.4" y="508.6" font-size="9.5" font-weight="bold" text-anchor="middle">-2</text>
<path d="M189.8 494.7V498.3" stroke="#000" stroke-width="1.85"/>
<text x="189.8" y="508.6" font-size="9.5" font-weight="bold" text-anchor="middle">0</text>
<path d="M244.2 494.7V498.3" stroke="#000" stroke-width="1.85"/>
<text x="244.2" y="508.6" font-size="9.5" font-weight="bold" text-anchor="middle">2</text>
<text x="-0.5" y="361.8" font-size="18.2" font-weight="bold" text-anchor="start">E</text>
<text x="148.1" y="376" font-size="11.6" font-weight="bold" text-anchor="middle">REH</text>
<text transform="translate(9 431) rotate(-90)" class="r" font-size="11" font-weight="normal" text-anchor="middle">Ex<tspan dy="2.2" font-size="7.48">544</tspan><tspan dy="-2.2">/Em</tspan><tspan dy="2.2" font-size="7.48">590</tspan></text>
<text x="149.2" y="521.7" font-size="10.5" font-weight="bold" text-anchor="middle">log<tspan dy="2.83" font-size="7.88">10</tspan><tspan dy="-2.83">[</tspan><tspan font-size="8.4">L</tspan>-ASP]</text>
<circle cx="64" cy="455.8" r="2.75"/>
<text x="78.6" y="459" font-size="9" font-weight="bold" text-anchor="start">Q59L</text>
<rect x="61.3" y="467.3" width="5.4" height="5.4"/>
<text x="78.6" y="473.2" font-size="9" font-weight="bold" text-anchor="start">Q59F</text>
<path d="M64 481.38L66.95 486.69L61.05 486.69Z"/>
<text x="78.6" y="487.5" font-size="9" font-weight="bold" text-anchor="start">WT</text>
<path d="M91.8 397.5V413.5M88.8 397.5H94.8M88.8 413.5H94.8" fill="none" stroke="#000" stroke-width="1.6"/>
<path d="M124.4 417.5V428.5M121.4 417.5H127.4M121.4 428.5H127.4" fill="none" stroke="#000" stroke-width="1.6"/>
<path d="M189.6 408V418M186.6 408H192.6M186.6 418H192.6" fill="none" stroke="#000" stroke-width="1.6"/>
<path d="M197.75 407V421M194.75 407H200.75M194.75 421H200.75" fill="none" stroke="#000" stroke-width="1.6"/>
<circle cx="91.8" cy="405.5" r="2.75"/>
<circle cx="99.95" cy="410.2" r="2.75"/>
<circle cx="108.1" cy="412.9" r="2.75"/>
<circle cx="116.25" cy="418.4" r="2.75"/>
<circle cx="124.4" cy="423" r="2.75"/>
<circle cx="132.55" cy="421.8" r="2.75"/>
<circle cx="140.7" cy="421.4" r="2.75"/>
<circle cx="148.85" cy="421.4" r="2.75"/>
<circle cx="157" cy="419" r="2.75"/>
<circle cx="165.15" cy="413" r="2.75"/>
<circle cx="173.3" cy="411.9" r="2.75"/>
<circle cx="181.45" cy="412.4" r="2.75"/>
<circle cx="189.6" cy="413" r="2.75"/>
<circle cx="197.75" cy="414" r="2.75"/>
<circle cx="205.9" cy="411.5" r="2.75"/>
<circle cx="214.05" cy="411.2" r="2.75"/>
<circle cx="222.2" cy="408.5" r="2.75"/>
<circle cx="230.35" cy="402.3" r="2.75"/>
<path d="M189.6 406V416M186.6 406H192.6M186.6 416H192.6" fill="none" stroke="#000" stroke-width="1.6"/>
<path d="M197.75 408V420M194.75 408H200.75M194.75 420H200.75" fill="none" stroke="#000" stroke-width="1.6"/>
<rect x="89.1" y="408.8" width="5.4" height="5.4"/>
<rect x="97.25" y="407.5" width="5.4" height="5.4"/>
<rect x="105.4" y="410.2" width="5.4" height="5.4"/>
<rect x="113.55" y="415.7" width="5.4" height="5.4"/>
<rect x="121.7" y="417.8" width="5.4" height="5.4"/>
<rect x="129.85" y="419.6" width="5.4" height="5.4"/>
<rect x="138" y="418.9" width="5.4" height="5.4"/>
<rect x="146.15" y="418.9" width="5.4" height="5.4"/>
<rect x="154.3" y="416.3" width="5.4" height="5.4"/>
<rect x="162.45" y="410.3" width="5.4" height="5.4"/>
<rect x="170.6" y="409.3" width="5.4" height="5.4"/>
<rect x="178.75" y="409.7" width="5.4" height="5.4"/>
<rect x="186.9" y="408.3" width="5.4" height="5.4"/>
<rect x="195.05" y="411.3" width="5.4" height="5.4"/>
<rect x="203.2" y="408.8" width="5.4" height="5.4"/>
<rect x="211.35" y="408.5" width="5.4" height="5.4"/>
<rect x="219.5" y="405.8" width="5.4" height="5.4"/>
<rect x="227.65" y="399.6" width="5.4" height="5.4"/>
<rect x="97.25" y="406.3" width="5.4" height="7.8" rx="0.6"/>
<rect x="105.4" y="409.05" width="5.4" height="7.7" rx="0.6"/>
<rect x="113.55" y="413.4" width="5.4" height="10" rx="0.6"/>
<rect x="154.3" y="415.3" width="5.4" height="7.4" rx="0.6"/>
<rect x="162.45" y="408.5" width="5.4" height="9" rx="0.6"/>
<rect x="211.35" y="406.7" width="5.4" height="9" rx="0.6"/>
<rect x="219.5" y="403.8" width="5.4" height="9.4" rx="0.6"/>
<rect x="227.65" y="398" width="5.4" height="8.6" rx="0.6"/>
<path d="M108.1 417.2V423.2M105.1 417.2H111.1M105.1 423.2H111.1" fill="none" stroke="#000" stroke-width="1.6"/>
<path d="M173.3 417.7V433.1M170.3 417.7H176.3M170.3 433.1H176.3" fill="none" stroke="#000" stroke-width="1.6"/>
<path d="M197.75 451.2V458.4M194.75 451.2H200.75M194.75 458.4H200.75" fill="none" stroke="#000" stroke-width="1.6"/>
<path d="M205.9 453.2V459.8M202.9 453.2H208.9M202.9 459.8H208.9" fill="none" stroke="#000" stroke-width="1.6"/>
<path d="M214.05 452.6V458.6M211.05 452.6H217.05M211.05 458.6H217.05" fill="none" stroke="#000" stroke-width="1.6"/>
<path d="M91.8 408.58L94.75 413.88L88.85 413.88Z"/>
<path d="M99.95 417.28L102.9 422.58L97 422.58Z"/>
<path d="M108.1 417.28L111.05 422.58L105.15 422.58Z"/>
<path d="M116.25 417.08L119.2 422.38L113.3 422.38Z"/>
<path d="M124.4 419.08L127.35 424.38L121.45 424.38Z"/>
<path d="M132.55 419.08L135.5 424.38L129.6 424.38Z"/>
<path d="M140.7 418.58L143.65 423.88L137.75 423.88Z"/>
<path d="M148.85 418.58L151.8 423.88L145.9 423.88Z"/>
<path d="M157 416.08L159.95 421.38L154.05 421.38Z"/>
<path d="M165.15 410.08L168.1 415.38L162.2 415.38Z"/>
<path d="M173.3 422.48L176.25 427.78L170.35 427.78Z"/>
<path d="M181.45 431.98L184.4 437.28L178.5 437.28Z"/>
<path d="M189.6 444.08L192.55 449.38L186.65 449.38Z"/>
<path d="M197.75 451.88L200.7 457.19L194.8 457.19Z"/>
<path d="M205.9 453.58L208.85 458.88L202.95 458.88Z"/>
<path d="M214.05 452.69L217 457.99L211.1 457.99Z"/>
<path d="M222.2 451.38L225.15 456.69L219.25 456.69Z"/>
<path d="M230.35 450.08L233.3 455.38L227.4 455.38Z"/>
</g>
<g>
<path d="M326.5 368.6V495.2H517" fill="none" stroke="#000" stroke-width="1.85" stroke-linecap="square"/>
<path d="M322.6 369.4H326.5" stroke="#000" stroke-width="1.85"/>
<text transform="translate(321.6 372.53) scale(1.025 1)" font-size="9.5" font-weight="bold" text-anchor="end">2.0<tspan class="x" font-weight="normal">×</tspan>10<tspan dy="-3.14" font-size="5.89">7</tspan></text>
<path d="M322.6 400.9H326.5" stroke="#000" stroke-width="1.85"/>
<text transform="translate(321.6 404.03) scale(1.025 1)" font-size="9.5" font-weight="bold" text-anchor="end">1.5<tspan class="x" font-weight="normal">×</tspan>10<tspan dy="-3.14" font-size="5.89">7</tspan></text>
<path d="M322.6 432.3H326.5" stroke="#000" stroke-width="1.85"/>
<text transform="translate(321.6 435.44) scale(1.025 1)" font-size="9.5" font-weight="bold" text-anchor="end">1.0<tspan class="x" font-weight="normal">×</tspan>10<tspan dy="-3.14" font-size="5.89">7</tspan></text>
<path d="M322.6 463.8H326.5" stroke="#000" stroke-width="1.85"/>
<text transform="translate(321.6 466.94) scale(1.025 1)" font-size="9.5" font-weight="bold" text-anchor="end">5.0<tspan class="x" font-weight="normal">×</tspan>10<tspan dy="-3.14" font-size="5.89">6</tspan></text>
<path d="M322.6 495.2H326.5" stroke="#000" stroke-width="1.85"/>
<text transform="translate(321.6 498.33) scale(1.025 1)" font-size="9.5" font-weight="bold" text-anchor="end">0</text>
<path d="M353.7 495.2V498.8" stroke="#000" stroke-width="1.85"/>
<text x="353.7" y="509.1" font-size="9.5" font-weight="bold" text-anchor="middle">-4</text>
<path d="M407.8 495.2V498.8" stroke="#000" stroke-width="1.85"/>
<text x="407.8" y="509.1" font-size="9.5" font-weight="bold" text-anchor="middle">-2</text>
<path d="M462 495.2V498.8" stroke="#000" stroke-width="1.85"/>
<text x="462" y="509.1" font-size="9.5" font-weight="bold" text-anchor="middle">0</text>
<path d="M516.2 495.2V498.8" stroke="#000" stroke-width="1.85"/>
<text x="516.2" y="509.1" font-size="9.5" font-weight="bold" text-anchor="middle">2</text>
<text x="269.1" y="361.8" font-size="18.2" font-weight="bold" text-anchor="start">F</text>
<text x="429.7" y="376.1" font-size="11.6" font-weight="bold" text-anchor="middle">NALM-6</text>
<text transform="translate(280 432.2) rotate(-90)" class="r" font-size="11" font-weight="normal" text-anchor="middle">Ex<tspan dy="2.2" font-size="7.48">544</tspan><tspan dy="-2.2">/Em</tspan><tspan dy="2.2" font-size="7.48">590</tspan></text>
<text x="422" y="522.2" font-size="10.5" font-weight="bold" text-anchor="middle">log<tspan dy="2.83" font-size="7.88">10</tspan><tspan dy="-2.83">[</tspan><tspan font-size="8.4">L</tspan>-ASP]</text>
<circle cx="335.8" cy="455" r="2.75"/>
<text x="350" y="458.2" font-size="9" font-weight="bold" text-anchor="start">Q59L</text>
<rect x="333.1" y="466.6" width="5.4" height="5.4"/>
<text x="350" y="472.5" font-size="9" font-weight="bold" text-anchor="start">Q59F</text>
<path d="M335.8 481.38L338.75 486.69L332.85 486.69Z"/>
<text x="350" y="487.5" font-size="9" font-weight="bold" text-anchor="start">WT</text>
<path d="M364 386.5V399.5M361 386.5H367M361 399.5H367" fill="none" stroke="#000" stroke-width="1.6"/>
<path d="M396.64 406V416M393.64 406H399.64M393.64 416H399.64" fill="none" stroke="#000" stroke-width="1.6"/>
<path d="M421.12 403V413M418.12 403H424.12M418.12 413H424.12" fill="none" stroke="#000" stroke-width="1.6"/>
<path d="M478.24 404V412M475.24 404H481.24M475.24 412H481.24" fill="none" stroke="#000" stroke-width="1.6"/>
<circle cx="364" cy="393" r="2.75"/>
<circle cx="372.16" cy="393.5" r="2.75"/>
<circle cx="380.32" cy="402" r="2.75"/>
<circle cx="388.48" cy="408" r="2.75"/>
<circle cx="396.64" cy="411" r="2.75"/>
<circle cx="404.8" cy="409" r="2.75"/>
<circle cx="412.96" cy="411" r="2.75"/>
<circle cx="421.12" cy="408" r="2.75"/>
<circle cx="429.28" cy="409" r="2.75"/>
<circle cx="437.44" cy="404.5" r="2.75"/>
<circle cx="445.6" cy="407.2" r="2.75"/>
<circle cx="453.76" cy="408.5" r="2.75"/>
<circle cx="461.92" cy="408" r="2.75"/>
<circle cx="470.08" cy="411" r="2.75"/>
<circle cx="478.24" cy="408" r="2.75"/>
<circle cx="486.4" cy="405" r="2.75"/>
<circle cx="494.56" cy="401" r="2.75"/>
<circle cx="502.72" cy="399.4" r="2.75"/>
<path d="M396.64 407V419M393.64 407H399.64M393.64 419H399.64" fill="none" stroke="#000" stroke-width="1.6"/>
<path d="M421.12 408V418M418.12 408H424.12M418.12 418H424.12" fill="none" stroke="#000" stroke-width="1.6"/>
<path d="M429.28 407V419M426.28 407H432.28M426.28 419H432.28" fill="none" stroke="#000" stroke-width="1.6"/>
<path d="M461.92 405.8V414.2M458.92 405.8H464.92M458.92 414.2H464.92" fill="none" stroke="#000" stroke-width="1.6"/>
<path d="M478.24 408V418M475.24 408H481.24M475.24 418H481.24" fill="none" stroke="#000" stroke-width="1.6"/>
<rect x="361.3" y="393.3" width="5.4" height="5.4"/>
<rect x="369.46" y="395.8" width="5.4" height="5.4"/>
<rect x="377.62" y="399.7" width="5.4" height="5.4"/>
<rect x="385.78" y="405.3" width="5.4" height="5.4"/>
<rect x="393.94" y="410.3" width="5.4" height="5.4"/>
<rect x="402.1" y="407.8" width="5.4" height="5.4"/>
<rect x="410.26" y="410.8" width="5.4" height="5.4"/>
<rect x="418.42" y="410.3" width="5.4" height="5.4"/>
<rect x="426.58" y="410.3" width="5.4" height="5.4"/>
<rect x="434.74" y="403.3" width="5.4" height="5.4"/>
<rect x="442.9" y="408.3" width="5.4" height="5.4"/>
<rect x="451.06" y="408.3" width="5.4" height="5.4"/>
<rect x="459.22" y="407.3" width="5.4" height="5.4"/>
<rect x="467.38" y="409.8" width="5.4" height="5.4"/>
<rect x="475.54" y="410.3" width="5.4" height="5.4"/>
<rect x="483.7" y="405.3" width="5.4" height="5.4"/>
<rect x="491.86" y="399.9" width="5.4" height="5.4"/>
<rect x="500.02" y="397.3" width="5.4" height="5.4"/>
<path d="M364 396.5V407.5M361 396.5H367M361 407.5H367" fill="none" stroke="#000" stroke-width="1.6"/>
<path d="M380.32 410.6V417.6M377.32 410.6H383.32M377.32 417.6H383.32" fill="none" stroke="#000" stroke-width="1.6"/>
<path d="M445.6 414.1V421.1M442.6 414.1H448.6M442.6 421.1H448.6" fill="none" stroke="#000" stroke-width="1.6"/>
<path d="M364 399.08L366.95 404.38L361.05 404.38Z"/>
<path d="M372.16 408.58L375.11 413.88L369.21 413.88Z"/>
<path d="M380.32 411.19L383.27 416.49L377.37 416.49Z"/>
<path d="M388.48 408.08L391.43 413.38L385.53 413.38Z"/>
<path d="M396.64 410.08L399.59 415.38L393.69 415.38Z"/>
<path d="M404.8 407.08L407.75 412.38L401.85 412.38Z"/>
<path d="M412.96 409.08L415.91 414.38L410.01 414.38Z"/>
<path d="M421.12 407.08L424.07 412.38L418.17 412.38Z"/>
<path d="M429.28 407.08L432.23 412.38L426.33 412.38Z"/>
<path d="M437.44 403.08L440.39 408.38L434.49 408.38Z"/>
<path d="M445.6 414.69L448.55 419.99L442.65 419.99Z"/>
<path d="M453.76 432.78L456.71 438.08L450.81 438.08Z"/>
<path d="M461.92 445.48L464.87 450.78L458.97 450.78Z"/>
<path d="M470.08 451.88L473.03 457.19L467.13 457.19Z"/>
<path d="M478.24 457.08L481.19 462.38L475.29 462.38Z"/>
<path d="M486.4 460.08L489.35 465.38L483.45 465.38Z"/>
<path d="M494.56 460.88L497.51 466.19L491.61 466.19Z"/>
<path d="M502.72 460.48L505.67 465.78L499.77 465.78Z"/>
</g>
<g>
<path d="M58.8 548.8V676H249" fill="none" stroke="#000" stroke-width="1.85" stroke-linecap="square"/>
<path d="M54.9 549.5H58.8" stroke="#000" stroke-width="1.85"/>
<text transform="translate(53.9 552.63) scale(1.025 1)" font-size="9.5" font-weight="bold" text-anchor="end">2.5<tspan class="x" font-weight="normal">×</tspan>10<tspan dy="-3.14" font-size="5.89">7</tspan></text>
<path d="M54.9 574.8H58.8" stroke="#000" stroke-width="1.85"/>
<text transform="translate(53.9 577.93) scale(1.025 1)" font-size="9.5" font-weight="bold" text-anchor="end">2.0<tspan class="x" font-weight="normal">×</tspan>10<tspan dy="-3.14" font-size="5.89">7</tspan></text>
<path d="M54.9 600.1H58.8" stroke="#000" stroke-width="1.85"/>
<text transform="translate(53.9 603.24) scale(1.025 1)" font-size="9.5" font-weight="bold" text-anchor="end">1.5<tspan class="x" font-weight="normal">×</tspan>10<tspan dy="-3.14" font-size="5.89">7</tspan></text>
<path d="M54.9 625.4H58.8" stroke="#000" stroke-width="1.85"/>
<text transform="translate(53.9 628.53) scale(1.025 1)" font-size="9.5" font-weight="bold" text-anchor="end">1.0<tspan class="x" font-weight="normal">×</tspan>10<tspan dy="-3.14" font-size="5.89">7</tspan></text>
<path d="M54.9 650.7H58.8" stroke="#000" stroke-width="1.85"/>
<text transform="translate(53.9 653.84) scale(1.025 1)" font-size="9.5" font-weight="bold" text-anchor="end">5.0<tspan class="x" font-weight="normal">×</tspan>10<tspan dy="-3.14" font-size="5.89">6</tspan></text>
<path d="M54.9 676H58.8" stroke="#000" stroke-width="1.85"/>
<text transform="translate(53.9 679.13) scale(1.025 1)" font-size="9.5" font-weight="bold" text-anchor="end">0</text>
<path d="M85.8 676V679.6" stroke="#000" stroke-width="1.85"/>
<text x="85.8" y="689.9" font-size="9.5" font-weight="bold" text-anchor="middle">-4</text>
<path d="M140 676V679.6" stroke="#000" stroke-width="1.85"/>
<text x="140" y="689.9" font-size="9.5" font-weight="bold" text-anchor="middle">-2</text>
<path d="M194.2 676V679.6" stroke="#000" stroke-width="1.85"/>
<text x="194.2" y="689.9" font-size="9.5" font-weight="bold" text-anchor="middle">0</text>
<path d="M248.4 676V679.6" stroke="#000" stroke-width="1.85"/>
<text x="248.4" y="689.9" font-size="9.5" font-weight="bold" text-anchor="middle">2</text>
<text x="0" y="544" font-size="18.2" font-weight="bold" text-anchor="start">G</text>
<text x="149.7" y="554.7" font-size="11.6" font-weight="bold" text-anchor="middle">OVCAR-8</text>
<text transform="translate(12.8 609.3) rotate(-90)" class="r" font-size="11" font-weight="normal" text-anchor="middle">Ex<tspan dy="2.2" font-size="7.48">544</tspan><tspan dy="-2.2">/Em</tspan><tspan dy="2.2" font-size="7.48">590</tspan></text>
<text x="154" y="702.4" font-size="10.5" font-weight="bold" text-anchor="middle">log<tspan dy="2.83" font-size="7.88">10</tspan><tspan dy="-2.83">[</tspan><tspan font-size="8.4">L</tspan>-ASP]</text>
<circle cx="70" cy="635.5" r="2.75"/>
<text x="84.5" y="638.7" font-size="9" font-weight="bold" text-anchor="start">Q59L</text>
<rect x="67.3" y="647.4" width="5.4" height="5.4"/>
<text x="84.5" y="653.3" font-size="9" font-weight="bold" text-anchor="start">Q59F</text>
<path d="M70 661.88L72.95 667.18L67.05 667.18Z"/>
<text x="84.5" y="668" font-size="9" font-weight="bold" text-anchor="start">WT</text>
<path d="M87.6 579V591M84.6 579H90.6M84.6 591H90.6" fill="none" stroke="#000" stroke-width="1.6"/>
<path d="M95.8 573.5V591.5M92.8 573.5H98.8M92.8 591.5H98.8" fill="none" stroke="#000" stroke-width="1.6"/>
<path d="M104 580V592M101 580H107M101 592H107" fill="none" stroke="#000" stroke-width="1.6"/>
<path d="M169.6 587V599M166.6 587H172.6M166.6 599H172.6" fill="none" stroke="#000" stroke-width="1.6"/>
<path d="M194.2 592.8V603.8M191.2 592.8H197.2M191.2 603.8H197.2" fill="none" stroke="#000" stroke-width="1.6"/>
<path d="M202.4 592V604M199.4 592H205.4M199.4 604H205.4" fill="none" stroke="#000" stroke-width="1.6"/>
<path d="M218.8 587V599M215.8 587H221.8M215.8 599H221.8" fill="none" stroke="#000" stroke-width="1.6"/>
<path d="M227 585V595M224 585H230M224 595H230" fill="none" stroke="#000" stroke-width="1.6"/>
<circle cx="87.6" cy="585" r="2.75"/>
<circle cx="95.8" cy="582.5" r="2.75"/>
<circle cx="104" cy="586" r="2.75"/>
<circle cx="112.2" cy="588" r="2.75"/>
<circle cx="120.4" cy="591.5" r="2.75"/>
<circle cx="128.6" cy="588" r="2.75"/>
<circle cx="136.8" cy="586.3" r="2.75"/>
<circle cx="145" cy="587" r="2.75"/>
<circle cx="153.2" cy="588" r="2.75"/>
<circle cx="161.4" cy="575.6" r="2.75"/>
<circle cx="169.6" cy="593" r="2.75"/>
<circle cx="177.8" cy="592.4" r="2.75"/>
<circle cx="186" cy="593.3" r="2.75"/>
<circle cx="194.2" cy="598.3" r="2.75"/>
<circle cx="202.4" cy="598" r="2.75"/>
<circle cx="210.6" cy="593" r="2.75"/>
<circle cx="218.8" cy="593" r="2.75"/>
<circle cx="227" cy="590" r="2.75"/>
<path d="M87.6 578V592M84.6 578H90.6M84.6 592H90.6" fill="none" stroke="#000" stroke-width="1.6"/>
<path d="M95.8 580V590M92.8 580H98.8M92.8 590H98.8" fill="none" stroke="#000" stroke-width="1.6"/>
<path d="M145 582V598M142 582H148M142 598H148" fill="none" stroke="#000" stroke-width="1.6"/>
<path d="M153.2 584V594M150.2 584H156.2M150.2 594H156.2" fill="none" stroke="#000" stroke-width="1.6"/>
<path d="M202.4 592V602M199.4 592H205.4M199.4 602H205.4" fill="none" stroke="#000" stroke-width="1.6"/>
<path d="M218.8 586V606M215.8 586H221.8M215.8 606H221.8" fill="none" stroke="#000" stroke-width="1.6"/>
<path d="M227 586V596M224 586H230M224 596H230" fill="none" stroke="#000" stroke-width="1.6"/>
<rect x="84.9" y="582.3" width="5.4" height="5.4"/>
<rect x="93.1" y="582.3" width="5.4" height="5.4"/>
<rect x="101.3" y="584.3" width="5.4" height="5.4"/>
<rect x="109.5" y="592.8" width="5.4" height="5.4"/>
<rect x="117.7" y="594.8" width="5.4" height="5.4"/>
<rect x="125.9" y="591.1" width="5.4" height="5.4"/>
<rect x="134.1" y="587.5" width="5.4" height="5.4"/>
<rect x="142.3" y="587.3" width="5.4" height="5.4"/>
<rect x="150.5" y="586.3" width="5.4" height="5.4"/>
<rect x="158.7" y="589.3" width="5.4" height="5.4"/>
<rect x="166.9" y="590.3" width="5.4" height="5.4"/>
<rect x="175.1" y="593.6" width="5.4" height="5.4"/>
<rect x="183.3" y="593.6" width="5.4" height="5.4"/>
<rect x="191.5" y="593.8" width="5.4" height="5.4"/>
<rect x="199.7" y="594.3" width="5.4" height="5.4"/>
<rect x="207.9" y="590.3" width="5.4" height="5.4"/>
<rect x="216.1" y="593.3" width="5.4" height="5.4"/>
<rect x="224.3" y="588.3" width="5.4" height="5.4"/>
<path d="M104 580V592M101 580H107M101 592H107" fill="none" stroke="#000" stroke-width="1.6"/>
<path d="M202.4 624.7V630.7M199.4 624.7H205.4M199.4 630.7H205.4" fill="none" stroke="#000" stroke-width="1.6"/>
<path d="M87.6 583.09L90.55 588.38L84.65 588.38Z"/>
<path d="M95.8 582.09L98.75 587.38L92.85 587.38Z"/>
<path d="M104 583.09L106.95 588.38L101.05 588.38Z"/>
<path d="M112.2 589.09L115.15 594.38L109.25 594.38Z"/>
<path d="M120.4 591.59L123.35 596.88L117.45 596.88Z"/>
<path d="M128.6 588.09L131.55 593.38L125.65 593.38Z"/>
<path d="M136.8 585.38L139.75 590.68L133.85 590.68Z"/>
<path d="M145 585.09L147.95 590.38L142.05 590.38Z"/>
<path d="M153.2 585.09L156.15 590.38L150.25 590.38Z"/>
<path d="M161.4 588.09L164.35 593.38L158.45 593.38Z"/>
<path d="M169.6 591.09L172.55 596.38L166.65 596.38Z"/>
<path d="M177.8 592.09L180.75 597.38L174.85 597.38Z"/>
<path d="M186 609.19L188.95 614.49L183.05 614.49Z"/>
<path d="M194.2 621.29L197.15 626.59L191.25 626.59Z"/>
<path d="M202.4 624.79L205.35 630.09L199.45 630.09Z"/>
<path d="M210.6 625.09L213.55 630.38L207.65 630.38Z"/>
<path d="M218.8 625.59L221.75 630.88L215.85 630.88Z"/>
<path d="M227 623.88L229.95 629.18L224.05 629.18Z"/>
</g>
<g>
<path d="M326.5 548.8V675.7H517" fill="none" stroke="#000" stroke-width="1.85" stroke-linecap="square"/>
<path d="M322.6 549.5H326.5" stroke="#000" stroke-width="1.85"/>
<text transform="translate(321.6 552.63) scale(1.025 1)" font-size="9.5" font-weight="bold" text-anchor="end">2.0<tspan class="x" font-weight="normal">×</tspan>10<tspan dy="-3.14" font-size="5.89">7</tspan></text>
<path d="M322.6 581H326.5" stroke="#000" stroke-width="1.85"/>
<text transform="translate(321.6 584.13) scale(1.025 1)" font-size="9.5" font-weight="bold" text-anchor="end">1.5<tspan class="x" font-weight="normal">×</tspan>10<tspan dy="-3.14" font-size="5.89">7</tspan></text>
<path d="M322.6 612.6H326.5" stroke="#000" stroke-width="1.85"/>
<text transform="translate(321.6 615.74) scale(1.025 1)" font-size="9.5" font-weight="bold" text-anchor="end">1.0<tspan class="x" font-weight="normal">×</tspan>10<tspan dy="-3.14" font-size="5.89">7</tspan></text>
<path d="M322.6 644.1H326.5" stroke="#000" stroke-width="1.85"/>
<text transform="translate(321.6 647.24) scale(1.025 1)" font-size="9.5" font-weight="bold" text-anchor="end">5.0<tspan class="x" font-weight="normal">×</tspan>10<tspan dy="-3.14" font-size="5.89">6</tspan></text>
<path d="M322.6 675.7H326.5" stroke="#000" stroke-width="1.85"/>
<text transform="translate(321.6 678.84) scale(1.025 1)" font-size="9.5" font-weight="bold" text-anchor="end">0</text>
<path d="M353.5 675.7V679.3" stroke="#000" stroke-width="1.85"/>
<text x="353.5" y="689.6" font-size="9.5" font-weight="bold" text-anchor="middle">-4</text>
<path d="M407.7 675.7V679.3" stroke="#000" stroke-width="1.85"/>
<text x="407.7" y="689.6" font-size="9.5" font-weight="bold" text-anchor="middle">-2</text>
<path d="M462 675.7V679.3" stroke="#000" stroke-width="1.85"/>
<text x="462" y="689.6" font-size="9.5" font-weight="bold" text-anchor="middle">0</text>
<path d="M516.2 675.7V679.3" stroke="#000" stroke-width="1.85"/>
<text x="516.2" y="689.6" font-size="9.5" font-weight="bold" text-anchor="middle">2</text>
<text x="269.1" y="544" font-size="18.2" font-weight="bold" text-anchor="start">H</text>
<text x="422.4" y="554.7" font-size="11.6" font-weight="bold" text-anchor="middle">SK-OV3</text>
<text transform="translate(282.4 612.2) rotate(-90)" class="r" font-size="11" font-weight="normal" text-anchor="middle">Ex<tspan dy="2.2" font-size="7.48">544</tspan><tspan dy="-2.2">/Em</tspan><tspan dy="2.2" font-size="7.48">590</tspan></text>
<text x="421.4" y="702.7" font-size="10.5" font-weight="bold" text-anchor="middle">Log<tspan dy="2.83" font-size="7.88">10</tspan><tspan dy="-2.83">[</tspan><tspan font-size="8.4">L</tspan>-ASP]</text>
<circle cx="336.2" cy="636.8" r="2.75"/>
<text x="350" y="640" font-size="9" font-weight="bold" text-anchor="start">Q59L</text>
<rect x="333.5" y="648.6" width="5.4" height="5.4"/>
<text x="350" y="654.5" font-size="9" font-weight="bold" text-anchor="start">Q59F</text>
<path d="M336.2 663.38L339.15 668.68L333.25 668.68Z"/>
<text x="350" y="669.5" font-size="9" font-weight="bold" text-anchor="start">WT</text>
<path d="M371.97 583V593M368.97 583H374.97M368.97 593H374.97" fill="none" stroke="#000" stroke-width="1.6"/>
<path d="M445.5 582V592M442.5 582H448.5M442.5 592H448.5" fill="none" stroke="#000" stroke-width="1.6"/>
<path d="M486.35 583V593M483.35 583H489.35M483.35 593H489.35" fill="none" stroke="#000" stroke-width="1.6"/>
<path d="M494.52 584V590M491.52 584H497.52M491.52 590H497.52" fill="none" stroke="#000" stroke-width="1.6"/>
<circle cx="363.8" cy="579.5" r="2.75"/>
<circle cx="371.97" cy="588" r="2.75"/>
<circle cx="380.14" cy="588" r="2.75"/>
<circle cx="388.31" cy="586" r="2.75"/>
<circle cx="396.48" cy="589" r="2.75"/>
<circle cx="404.65" cy="586" r="2.75"/>
<circle cx="412.82" cy="586" r="2.75"/>
<circle cx="420.99" cy="580.5" r="2.75"/>
<circle cx="429.16" cy="585.5" r="2.75"/>
<circle cx="437.33" cy="590" r="2.75"/>
<circle cx="445.5" cy="587" r="2.75"/>
<circle cx="453.67" cy="594" r="2.75"/>
<circle cx="461.84" cy="597" r="2.75"/>
<circle cx="470.01" cy="595" r="2.75"/>
<circle cx="478.18" cy="595" r="2.75"/>
<circle cx="486.35" cy="588" r="2.75"/>
<circle cx="494.52" cy="587" r="2.75"/>
<circle cx="502.69" cy="585.5" r="2.75"/>
<path d="M371.97 579V591M368.97 579H374.97M368.97 591H374.97" fill="none" stroke="#000" stroke-width="1.6"/>
<path d="M420.99 587V597M417.99 587H423.99M417.99 597H423.99" fill="none" stroke="#000" stroke-width="1.6"/>
<rect x="361.1" y="586.9" width="5.4" height="5.4"/>
<rect x="369.27" y="582.3" width="5.4" height="5.4"/>
<rect x="377.44" y="585.6" width="5.4" height="5.4"/>
<rect x="385.61" y="592.6" width="5.4" height="5.4"/>
<rect x="393.78" y="592.6" width="5.4" height="5.4"/>
<rect x="401.95" y="593.5" width="5.4" height="5.4"/>
<rect x="410.12" y="593.5" width="5.4" height="5.4"/>
<rect x="418.29" y="589.3" width="5.4" height="5.4"/>
<rect x="426.46" y="592.5" width="5.4" height="5.4"/>
<rect x="434.63" y="590.3" width="5.4" height="5.4"/>
<rect x="442.8" y="594.7" width="5.4" height="5.4"/>
<rect x="450.97" y="595.8" width="5.4" height="5.4"/>
<rect x="459.14" y="599.3" width="5.4" height="5.4"/>
<rect x="467.31" y="595.9" width="5.4" height="5.4"/>
<rect x="475.48" y="595.9" width="5.4" height="5.4"/>
<rect x="483.65" y="589.3" width="5.4" height="5.4"/>
<rect x="491.82" y="585.8" width="5.4" height="5.4"/>
<rect x="499.99" y="587.9" width="5.4" height="5.4"/>
<path d="M371.97 588V602M368.97 588H374.97M368.97 602H374.97" fill="none" stroke="#000" stroke-width="1.6"/>
<path d="M420.99 588.5V601.5M417.99 588.5H423.99M417.99 601.5H423.99" fill="none" stroke="#000" stroke-width="1.6"/>
<path d="M437.33 598.7V604.7M434.33 598.7H440.33M434.33 604.7H440.33" fill="none" stroke="#000" stroke-width="1.6"/>
<path d="M445.5 595V603M442.5 595H448.5M442.5 603H448.5" fill="none" stroke="#000" stroke-width="1.6"/>
<path d="M453.67 606.4V614.4M450.67 606.4H456.67M450.67 614.4H456.67" fill="none" stroke="#000" stroke-width="1.6"/>
<path d="M363.8 582.38L366.75 587.68L360.85 587.68Z"/>
<path d="M371.97 592.09L374.92 597.38L369.02 597.38Z"/>
<path d="M380.14 593.59L383.09 598.88L377.19 598.88Z"/>
<path d="M388.31 587.88L391.26 593.18L385.36 593.18Z"/>
<path d="M396.48 589.59L399.43 594.88L393.53 594.88Z"/>
<path d="M404.65 588.29L407.6 593.59L401.7 593.59Z"/>
<path d="M412.82 588.29L415.77 593.59L409.87 593.59Z"/>
<path d="M420.99 592.09L423.94 597.38L418.04 597.38Z"/>
<path d="M429.16 587.59L432.11 592.88L426.21 592.88Z"/>
<path d="M437.33 598.79L440.28 604.09L434.38 604.09Z"/>
<path d="M445.5 596.09L448.45 601.38L442.55 601.38Z"/>
<path d="M453.67 607.49L456.62 612.78L450.72 612.78Z"/>
<path d="M461.84 620.38L464.79 625.68L458.89 625.68Z"/>
<path d="M470.01 627.09L472.96 632.38L467.06 632.38Z"/>
<path d="M478.18 629.99L481.13 635.28L475.23 635.28Z"/>
<path d="M486.35 630.79L489.3 636.09L483.4 636.09Z"/>
<path d="M494.52 628.19L497.47 633.49L491.57 633.49Z"/>
<path d="M502.69 629.99L505.64 635.28L499.74 635.28Z"/>
</g>
<g>
<rect x="62.45" y="830.9" width="5.1" height="23.6" fill="#000" stroke="#000" stroke-width="1.8"/>
<rect x="69.45" y="812.1" width="5.1" height="42.4" fill="#a0a0a0" stroke="#000" stroke-width="1.8"/>
<path d="M79 773.8V771.2M78 771.6H80" fill="none" stroke="#000" stroke-width="1.4"/>
<rect x="76.45" y="774.7" width="5.1" height="79.8" fill="#fff" stroke="#000" stroke-width="1.8"/>
<path d="M72 854.5V857.9" stroke="#000" stroke-width="1.85"/>
<text transform="translate(74.4 864.3) rotate(-45)" font-size="9.4" font-weight="bold" text-anchor="end">WT</text>
<rect x="88.65" y="774.7" width="5.1" height="79.8" fill="#000" stroke="#000" stroke-width="1.8"/>
<rect x="95.65" y="776.4" width="5.1" height="78.1" fill="#a0a0a0" stroke="#000" stroke-width="1.8"/>
<rect x="102.65" y="775.9" width="5.1" height="78.6" fill="#fff" stroke="#000" stroke-width="1.8"/>
<path d="M98.2 854.5V857.9" stroke="#000" stroke-width="1.85"/>
<text transform="translate(100.6 864.3) rotate(-45)" font-size="9.4" font-weight="bold" text-anchor="end">Q59L</text>
<rect x="114.85" y="820.4" width="5.1" height="34.1" fill="#000" stroke="#000" stroke-width="1.8"/>
<path d="M124.4 793.3V791.1M123.4 791.5H125.4" fill="none" stroke="#000" stroke-width="1.4"/>
<rect x="121.85" y="794.2" width="5.1" height="60.3" fill="#a0a0a0" stroke="#000" stroke-width="1.8"/>
<path d="M131.4 773.8V770.8M130.4 771.2H132.4" fill="none" stroke="#000" stroke-width="1.4"/>
<rect x="128.85" y="774.7" width="5.1" height="79.8" fill="#fff" stroke="#000" stroke-width="1.8"/>
<path d="M124.4 854.5V857.9" stroke="#000" stroke-width="1.85"/>
<text transform="translate(126.8 864.3) rotate(-45)" font-size="9.4" font-weight="bold" text-anchor="end">Q59D</text>
<path d="M143.6 833.8V832.8M142.6 833.2H144.6" fill="none" stroke="#000" stroke-width="1.4"/>
<rect x="141.05" y="834.7" width="5.1" height="19.8" fill="#000" stroke="#000" stroke-width="1.8"/>
<path d="M150.6 812.5V811.5M149.6 811.9H151.6" fill="none" stroke="#000" stroke-width="1.4"/>
<rect x="148.05" y="813.4" width="5.1" height="41.1" fill="#a0a0a0" stroke="#000" stroke-width="1.8"/>
<path d="M157.6 773.8V772.5M156.6 772.9H158.6" fill="none" stroke="#000" stroke-width="1.4"/>
<rect x="155.05" y="774.7" width="5.1" height="79.8" fill="#fff" stroke="#000" stroke-width="1.8"/>
<path d="M150.6 854.5V857.9" stroke="#000" stroke-width="1.85"/>
<text transform="translate(153 864.3) rotate(-45)" font-size="9.4" font-weight="bold" text-anchor="end">Q59E</text>
<rect x="167.25" y="778.4" width="5.1" height="76.1" fill="#000" stroke="#000" stroke-width="1.8"/>
<rect x="174.25" y="779.7" width="5.1" height="74.8" fill="#a0a0a0" stroke="#000" stroke-width="1.8"/>
<rect x="181.25" y="775.4" width="5.1" height="79.1" fill="#fff" stroke="#000" stroke-width="1.8"/>
<path d="M176.8 854.5V857.9" stroke="#000" stroke-width="1.85"/>
<text transform="translate(179.2 864.3) rotate(-45)" font-size="9.4" font-weight="bold" text-anchor="end">Q59F</text>
<path d="M196 836.2V832M195 832.4H197" fill="none" stroke="#000" stroke-width="1.4"/>
<rect x="193.45" y="837.1" width="5.1" height="17.4" fill="#000" stroke="#000" stroke-width="1.8"/>
<rect x="200.45" y="827.1" width="5.1" height="27.4" fill="#a0a0a0" stroke="#000" stroke-width="1.8"/>
<path d="M210 772.5V771.2M209 771.6H211" fill="none" stroke="#000" stroke-width="1.4"/>
<rect x="207.45" y="773.4" width="5.1" height="81.1" fill="#fff" stroke="#000" stroke-width="1.8"/>
<path d="M203 854.5V857.9" stroke="#000" stroke-width="1.85"/>
<text transform="translate(205.4 864.3) rotate(-45)" font-size="9.4" font-weight="bold" text-anchor="end">Q59H</text>
<path d="M222.2 830V828M221.2 828.4H223.2" fill="none" stroke="#000" stroke-width="1.4"/>
<rect x="219.65" y="830.9" width="5.1" height="23.6" fill="#000" stroke="#000" stroke-width="1.8"/>
<path d="M229.2 803.2V802.2M228.2 802.6H230.2" fill="none" stroke="#000" stroke-width="1.4"/>
<rect x="226.65" y="804.1" width="5.1" height="50.4" fill="#a0a0a0" stroke="#000" stroke-width="1.8"/>
<path d="M236.2 772.5V771.2M235.2 771.6H237.2" fill="none" stroke="#000" stroke-width="1.4"/>
<rect x="233.65" y="773.4" width="5.1" height="81.1" fill="#fff" stroke="#000" stroke-width="1.8"/>
<path d="M229.2 854.5V857.9" stroke="#000" stroke-width="1.85"/>
<text transform="translate(231.6 864.3) rotate(-45)" font-size="9.4" font-weight="bold" text-anchor="end">Q59N</text>
<path d="M58 731.2V854.5H243" fill="none" stroke="#000" stroke-width="1.85" stroke-linecap="square"/>
<path d="M54.1 731.8H58" stroke="#000" stroke-width="1.85"/>
<text transform="translate(53.1 734.93) scale(1.025 1)" font-size="9.5" font-weight="bold" text-anchor="end">5.0<tspan class="x" font-weight="normal">×</tspan>10<tspan dy="-3.14" font-size="5.89">7</tspan></text>
<path d="M54.1 772.6H58" stroke="#000" stroke-width="1.85"/>
<text transform="translate(53.1 775.74) scale(1.025 1)" font-size="9.5" font-weight="bold" text-anchor="end">4.0<tspan class="x" font-weight="normal">×</tspan>10<tspan dy="-3.14" font-size="5.89">7</tspan></text>
<path d="M54.1 813.4H58" stroke="#000" stroke-width="1.85"/>
<text transform="translate(53.1 816.53) scale(1.025 1)" font-size="9.5" font-weight="bold" text-anchor="end">3.0<tspan class="x" font-weight="normal">×</tspan>10<tspan dy="-3.14" font-size="5.89">7</tspan></text>
<path d="M54.1 854.5H58" stroke="#000" stroke-width="1.85"/>
<text transform="translate(53.1 857.63) scale(1.025 1)" font-size="9.5" font-weight="bold" text-anchor="end">2.0<tspan class="x" font-weight="normal">×</tspan>10<tspan dy="-3.14" font-size="5.89">7</tspan></text>
<text x="0.2" y="737.5" font-size="18.2" font-weight="bold" text-anchor="start">I</text>
<text x="137.2" y="737.8" font-size="9.1" font-weight="bold" text-anchor="middle">MOLT-4</text>
<text transform="translate(12.8 793.3) rotate(-90)" class="r" font-size="11" font-weight="normal" text-anchor="middle">Ex<tspan dy="2.2" font-size="7.48">544</tspan><tspan dy="-2.2">/Em</tspan><tspan dy="2.2" font-size="7.48">590</tspan></text>
<rect x="195.7" y="730.3" width="13.6" height="4.4" rx="0.8" fill="#000" stroke="#000" stroke-width="1.5"/>
<text x="216.3" y="735.4" font-size="8.2" font-weight="bold" text-anchor="start">4 U/mL</text>
<rect x="195.7" y="744.1" width="13.6" height="4.4" rx="0.8" fill="#a0a0a0" stroke="#000" stroke-width="1.5"/>
<text x="216.3" y="749.2" font-size="8.2" font-weight="bold" text-anchor="start">1 U/mL</text>
<rect x="195.7" y="758.3" width="13.6" height="4.4" rx="0.8" fill="#fff" stroke="#000" stroke-width="1.5"/>
<text x="216.3" y="763.4" font-size="8.2" font-weight="bold" text-anchor="start">0 U/mL</text>
</g>
<g>
<path d="M334.8 822.8V820.3M333.8 820.7H335.8" fill="none" stroke="#000" stroke-width="1.4"/>
<rect x="332.75" y="823.8" width="4.1" height="32" fill="#000" stroke="#000" stroke-width="2"/>
<path d="M341 813.5V807.7M340 808.1H342" fill="none" stroke="#000" stroke-width="1.4"/>
<rect x="338.95" y="814.5" width="4.1" height="41.3" fill="#8e8e8e" stroke="#000" stroke-width="2"/>
<path d="M347.2 741.5V738.5M346.2 738.9H348.2" fill="none" stroke="#000" stroke-width="1.4"/>
<rect x="345.15" y="742.5" width="4.1" height="113.3" fill="#fff" stroke="#000" stroke-width="2"/>
<path d="M341 855.8V859.2" stroke="#000" stroke-width="1.85"/>
<text transform="translate(343.4 865.6) rotate(-45)" font-size="9.4" font-weight="bold" text-anchor="end">ELSPAR</text>
<rect x="356.35" y="825.5" width="4.1" height="30.3" fill="#000" stroke="#000" stroke-width="2"/>
<rect x="362.55" y="813.8" width="4.1" height="42" fill="#8e8e8e" stroke="#000" stroke-width="2"/>
<path d="M370.8 762.8V761.8M369.8 762.2H371.8" fill="none" stroke="#000" stroke-width="1.4"/>
<rect x="368.75" y="763.8" width="4.1" height="92" fill="#fff" stroke="#000" stroke-width="2"/>
<path d="M364.6 855.8V859.2" stroke="#000" stroke-width="1.85"/>
<text transform="translate(367 865.6) rotate(-45)" font-size="9.4" font-weight="bold" text-anchor="end">WT</text>
<rect x="379.35" y="765.5" width="4.1" height="90.3" fill="#000" stroke="#000" stroke-width="2"/>
<path d="M387.6 759V756.5M386.6 756.9H388.6" fill="none" stroke="#000" stroke-width="1.4"/>
<rect x="385.55" y="760" width="4.1" height="95.8" fill="#8e8e8e" stroke="#000" stroke-width="2"/>
<path d="M393.8 751V739M392.8 739.4H394.8" fill="none" stroke="#000" stroke-width="1.4"/>
<rect x="391.75" y="752" width="4.1" height="103.8" fill="#fff" stroke="#000" stroke-width="2"/>
<path d="M387.6 855.8V859.2" stroke="#000" stroke-width="1.85"/>
<text transform="translate(390 865.6) rotate(-45)" font-size="9.4" font-weight="bold" text-anchor="end">Q59L</text>
<path d="M404.1 824V819.7M403.1 820.1H405.1" fill="none" stroke="#000" stroke-width="1.4"/>
<rect x="402.05" y="825" width="4.1" height="30.8" fill="#000" stroke="#000" stroke-width="2"/>
<path d="M410.3 786.5V777.7M409.3 778.1H411.3" fill="none" stroke="#000" stroke-width="1.4"/>
<rect x="408.25" y="787.5" width="4.1" height="68.3" fill="#8e8e8e" stroke="#000" stroke-width="2"/>
<path d="M416.5 746.5V744M415.5 744.4H417.5" fill="none" stroke="#000" stroke-width="1.4"/>
<rect x="414.45" y="747.5" width="4.1" height="108.3" fill="#fff" stroke="#000" stroke-width="2"/>
<path d="M410.3 855.8V859.2" stroke="#000" stroke-width="1.85"/>
<text transform="translate(412.7 865.6) rotate(-45)" font-size="9.4" font-weight="bold" text-anchor="end">Q59D</text>
<path d="M427.2 826V823.5M426.2 823.9H428.2" fill="none" stroke="#000" stroke-width="1.4"/>
<rect x="425.15" y="827" width="4.1" height="28.8" fill="#000" stroke="#000" stroke-width="2"/>
<path d="M433.4 811V804M432.4 804.4H434.4" fill="none" stroke="#000" stroke-width="1.4"/>
<rect x="431.35" y="812" width="4.1" height="43.8" fill="#8e8e8e" stroke="#000" stroke-width="2"/>
<path d="M439.6 763.2V760.2M438.6 760.6H440.6" fill="none" stroke="#000" stroke-width="1.4"/>
<rect x="437.55" y="764.2" width="4.1" height="91.6" fill="#fff" stroke="#000" stroke-width="2"/>
<path d="M433.4 855.8V859.2" stroke="#000" stroke-width="1.85"/>
<text transform="translate(435.8 865.6) rotate(-45)" font-size="9.4" font-weight="bold" text-anchor="end">Q59E</text>
<rect x="448.25" y="780" width="4.1" height="75.8" fill="#000" stroke="#000" stroke-width="2"/>
<path d="M456.5 780.2V769M455.5 769.4H457.5" fill="none" stroke="#000" stroke-width="1.4"/>
<rect x="454.45" y="781.2" width="4.1" height="74.6" fill="#8e8e8e" stroke="#000" stroke-width="2"/>
<rect x="460.65" y="765" width="4.1" height="90.8" fill="#fff" stroke="#000" stroke-width="2"/>
<path d="M456.5 855.8V859.2" stroke="#000" stroke-width="1.85"/>
<text transform="translate(458.9 865.6) rotate(-45)" font-size="9.4" font-weight="bold" text-anchor="end">Q59F</text>
<path d="M473.4 827V825.2M472.4 825.6H474.4" fill="none" stroke="#000" stroke-width="1.4"/>
<rect x="471.35" y="828" width="4.1" height="27.8" fill="#000" stroke="#000" stroke-width="2"/>
<path d="M479.6 825.2V821.4M478.6 821.8H480.6" fill="none" stroke="#000" stroke-width="1.4"/>
<rect x="477.55" y="826.2" width="4.1" height="29.6" fill="#8e8e8e" stroke="#000" stroke-width="2"/>
<path d="M485.8 769.8V768.6M484.8 769H486.8" fill="none" stroke="#000" stroke-width="1.4"/>
<rect x="483.75" y="770.8" width="4.1" height="85" fill="#fff" stroke="#000" stroke-width="2"/>
<path d="M479.6 855.8V859.2" stroke="#000" stroke-width="1.85"/>
<text transform="translate(482 865.6) rotate(-45)" font-size="9.4" font-weight="bold" text-anchor="end">Q59H</text>
<path d="M496.5 828.2V827.2M495.5 827.6H497.5" fill="none" stroke="#000" stroke-width="1.4"/>
<rect x="494.45" y="829.2" width="4.1" height="26.6" fill="#000" stroke="#000" stroke-width="2"/>
<path d="M502.7 806.5V805.5M501.7 805.9H503.7" fill="none" stroke="#000" stroke-width="1.4"/>
<rect x="500.65" y="807.5" width="4.1" height="48.3" fill="#8e8e8e" stroke="#000" stroke-width="2"/>
<path d="M508.9 770.2V769M507.9 769.4H509.9" fill="none" stroke="#000" stroke-width="1.4"/>
<rect x="506.85" y="771.2" width="4.1" height="84.6" fill="#fff" stroke="#000" stroke-width="2"/>
<path d="M502.7 855.8V859.2" stroke="#000" stroke-width="1.85"/>
<text transform="translate(505.1 865.6) rotate(-45)" font-size="9.4" font-weight="bold" text-anchor="end">Q59N</text>
<path d="M330 732V855.8H512.2" fill="none" stroke="#000" stroke-width="1.85" stroke-linecap="square"/>
<path d="M326.1 732.5H330" stroke="#000" stroke-width="1.85"/>
<text transform="translate(325.1 735.63) scale(1.025 1)" font-size="9.5" font-weight="bold" text-anchor="end">2.0<tspan class="x" font-weight="normal">×</tspan>10<tspan dy="-3.14" font-size="5.89">7</tspan></text>
<path d="M326.1 763.4H330" stroke="#000" stroke-width="1.85"/>
<text transform="translate(325.1 766.53) scale(1.025 1)" font-size="9.5" font-weight="bold" text-anchor="end">1.5<tspan class="x" font-weight="normal">×</tspan>10<tspan dy="-3.14" font-size="5.89">7</tspan></text>
<path d="M326.1 794.2H330" stroke="#000" stroke-width="1.85"/>
<text transform="translate(325.1 797.34) scale(1.025 1)" font-size="9.5" font-weight="bold" text-anchor="end">1.0<tspan class="x" font-weight="normal">×</tspan>10<tspan dy="-3.14" font-size="5.89">7</tspan></text>
<path d="M326.1 825H330" stroke="#000" stroke-width="1.85"/>
<text transform="translate(325.1 828.13) scale(1.025 1)" font-size="9.5" font-weight="bold" text-anchor="end">5.0<tspan class="x" font-weight="normal">×</tspan>10<tspan dy="-3.14" font-size="5.89">6</tspan></text>
<path d="M326.1 855.8H330" stroke="#000" stroke-width="1.85"/>
<text transform="translate(325.1 858.93) scale(1.025 1)" font-size="9.5" font-weight="bold" text-anchor="end">0</text>
<text x="271" y="737.5" font-size="18.2" font-weight="bold" text-anchor="start">J</text>
<text x="418.4" y="737.7" font-size="9.5" font-weight="bold" text-anchor="middle">OVCAR-8</text>
<text transform="translate(284.5 793.8) rotate(-90)" class="r" font-size="11" font-weight="normal" text-anchor="middle">Ex<tspan dy="2.2" font-size="7.48">544</tspan><tspan dy="-2.2">/Em</tspan><tspan dy="2.2" font-size="7.48">590</tspan></text>
<rect x="458.2" y="725.4" width="13.6" height="4.4" rx="0.8" fill="#000" stroke="#000" stroke-width="1.5"/>
<text x="478.8" y="730.5" font-size="8.2" font-weight="bold" text-anchor="start">8 U/mL</text>
<rect x="458.2" y="739.6" width="13.6" height="4.4" rx="0.8" fill="#8e8e8e" stroke="#000" stroke-width="1.5"/>
<text x="478.8" y="744.7" font-size="8.2" font-weight="bold" text-anchor="start">0.9 U/mL</text>
<rect x="458.2" y="753.6" width="13.6" height="4.4" rx="0.8" fill="#fff" stroke="#000" stroke-width="1.5"/>
<text x="478.8" y="758.7" font-size="8.2" font-weight="bold" text-anchor="start">0 U/mL</text>
</g>
<g>
<text x="-0.4" y="917.8" font-size="18.2" font-weight="bold" text-anchor="start">K</text>
<text x="57.2" y="937.2" font-size="7.5" font-weight="bold" text-anchor="middle">CCRF-CRM</text>
<path d="M42.5 941.2H76.3" stroke="#000" stroke-width="1.4"/>
<text x="95.3" y="937.2" font-size="7.5" font-weight="bold" text-anchor="middle">K562</text>
<path d="M78 941.2H109.6" stroke="#000" stroke-width="1.4"/>
<text x="131" y="937.2" font-size="7.5" font-weight="bold" text-anchor="middle">MOLT-4</text>
<path d="M115 941.2H148.8" stroke="#000" stroke-width="1.4"/>
<text x="170.5" y="937.2" font-size="7.5" font-weight="bold" text-anchor="middle">SR</text>
<path d="M154.5 941.2H186.3" stroke="#000" stroke-width="1.4"/>
<text x="206.3" y="937.2" font-size="7.5" font-weight="bold" text-anchor="middle">OVCAR-8</text>
<path d="M190 941.2H223" stroke="#000" stroke-width="1.4"/>
<text x="243.8" y="937.2" font-size="7.5" font-weight="bold" text-anchor="middle">SK-OV3</text>
<path d="M228 941.2H260" stroke="#000" stroke-width="1.4"/>
<text x="0" y="954" font-size="9.1" font-weight="bold" text-anchor="start">ELSPAR</text>
<text x="48" y="955.2" font-size="14.5" font-weight="bold" text-anchor="middle">-</text>
<text x="66.8" y="955.2" font-size="13" font-weight="bold" text-anchor="middle">+</text>
<text x="84.6" y="955.2" font-size="14.5" font-weight="bold" text-anchor="middle">-</text>
<text x="103" y="955.2" font-size="13" font-weight="bold" text-anchor="middle">+</text>
<text x="121.8" y="955.2" font-size="14.5" font-weight="bold" text-anchor="middle">-</text>
<text x="141.2" y="955.2" font-size="13" font-weight="bold" text-anchor="middle">+</text>
<text x="160.4" y="955.2" font-size="14.5" font-weight="bold" text-anchor="middle">-</text>
<text x="179.2" y="955.2" font-size="13" font-weight="bold" text-anchor="middle">+</text>
<text x="197.2" y="955.2" font-size="14.5" font-weight="bold" text-anchor="middle">-</text>
<text x="216.6" y="955.2" font-size="13" font-weight="bold" text-anchor="middle">+</text>
<text x="234.6" y="955.2" font-size="14.5" font-weight="bold" text-anchor="middle">-</text>
<text x="252.6" y="955.2" font-size="13" font-weight="bold" text-anchor="middle">+</text>
<text x="5.8" y="976.6" font-size="9.8" font-weight="bold" text-anchor="start">ASNS</text>
<text x="2.5" y="1004.2" font-size="9.4" font-weight="bold" text-anchor="start">β-actin</text>
<rect x="38.3" y="958.8" width="226.9" height="26" fill="url(#gK1)"/>
<rect x="38.3" y="958.8" width="226.9" height="26" fill="url(#gKv)"/>
<g clip-path="url(#cK1)">
<rect x="41.95" y="969.74" width="12.5" height="3.13" rx="3.75" ry="1.56" fill="#555" opacity="0.62" filter="url(#b1)"/>
<rect x="58.85" y="968.84" width="18.5" height="5.52" rx="5.55" ry="2.76" fill="#000" opacity="1" filter="url(#b1)"/>
<rect x="78.2" y="967.28" width="18.6" height="8.65" rx="5.58" ry="4.32" fill="#000" opacity="1" filter="url(#b1)"/>
<rect x="95.8" y="967.16" width="18.4" height="8.28" rx="5.52" ry="4.14" fill="#000" opacity="1" filter="url(#b1)"/>
<rect x="117.7" y="969.11" width="11" height="2.58" rx="3.3" ry="1.29" fill="#666" opacity="0.42" filter="url(#b1)"/>
<rect x="132.4" y="968.02" width="17.8" height="4.97" rx="5.34" ry="2.48" fill="#000" opacity="1" filter="url(#b1)"/>
<rect x="152.4" y="967.23" width="17.8" height="7.54" rx="5.34" ry="3.77" fill="#000" opacity="1" filter="url(#b1)"/>
<rect x="170.1" y="966.55" width="19.8" height="8.1" rx="5.94" ry="4.05" fill="#000" opacity="1" filter="url(#b1)"/>
<rect x="193.5" y="970.71" width="9" height="2.58" rx="2.7" ry="1.29" fill="#666" opacity="0.5" filter="url(#b1)"/>
<rect x="207.3" y="965.98" width="19.2" height="8.65" rx="5.76" ry="4.32" fill="#000" opacity="1" filter="url(#b1)"/>
<rect x="226.65" y="969.27" width="15.5" height="3.86" rx="4.65" ry="1.93" fill="#222" opacity="0.85" filter="url(#b1)"/>
<rect x="243.9" y="967.23" width="19.8" height="7.54" rx="5.94" ry="3.77" fill="#000" opacity="1" filter="url(#b1)"/>
</g>
<rect x="38.3" y="958.8" width="226.9" height="26" fill="none" stroke="#3a3a3a" stroke-width="1.2"/>
<rect x="38.3" y="988.2" width="226.9" height="27.2" fill="url(#gK2)"/>
<g clip-path="url(#cK2)">
<ellipse cx="199" cy="992.5" rx="7" ry="4" fill="#dcdcdc" filter="url(#b2)"/>
<rect x="44" y="999.2" width="216" height="3.4" fill="#000" filter="url(#b1)"/>
<rect x="41.9" y="994.82" width="20" height="8.56" rx="6" ry="4.28" fill="#000" opacity="1" filter="url(#b1)"/>
<rect x="59.5" y="994.82" width="21" height="8.56" rx="6.3" ry="4.28" fill="#000" opacity="1" filter="url(#b1)"/>
<rect x="80.5" y="995.67" width="16.6" height="7.07" rx="4.98" ry="3.53" fill="#000" opacity="1" filter="url(#b1)"/>
<rect x="97.1" y="996.35" width="18.4" height="6.51" rx="5.52" ry="3.26" fill="#000" opacity="1" filter="url(#b1)"/>
<rect x="115.6" y="998.92" width="17.6" height="5.95" rx="5.28" ry="2.98" fill="#000" opacity="1" filter="url(#b1)"/>
<rect x="133" y="997.28" width="20" height="7.44" rx="6" ry="3.72" fill="#000" opacity="1" filter="url(#b1)"/>
<rect x="153" y="997.2" width="19" height="8" rx="5.7" ry="4" fill="#000" opacity="1" filter="url(#b1)"/>
<rect x="170.6" y="997.2" width="20" height="8" rx="6" ry="4" fill="#000" opacity="1" filter="url(#b1)"/>
<rect x="190.5" y="995.83" width="16.6" height="8.74" rx="4.98" ry="4.37" fill="#000" opacity="1" filter="url(#b1)"/>
<rect x="205.6" y="998.35" width="20" height="9.3" rx="6" ry="4.65" fill="#000" opacity="1" filter="url(#b1)"/>
<rect x="225.6" y="999.64" width="17.6" height="6.32" rx="5.28" ry="3.16" fill="#000" opacity="1" filter="url(#b1)"/>
<rect x="242.6" y="998.28" width="20.4" height="7.44" rx="6.12" ry="3.72" fill="#000" opacity="1" filter="url(#b1)"/>
</g>
<rect x="38.3" y="988.2" width="226.9" height="27.2" fill="none" stroke="#4a4a4a" stroke-width="1.1"/>
</g>
<g>
<text x="273.7" y="919.3" font-size="18.2" font-weight="bold" text-anchor="start">L</text>
<text transform="translate(332.8 949.2) rotate(-90)" font-size="9.3" font-weight="bold" text-anchor="start">Ctrl</text>
<text transform="translate(355.6 949.2) rotate(-90)" font-size="9.3" font-weight="bold" text-anchor="start">ELSPAR</text>
<text transform="translate(377.1 949.2) rotate(-90)" font-size="9.3" font-weight="bold" text-anchor="start">WT</text>
<text transform="translate(398.8 949.2) rotate(-90)" font-size="9.3" font-weight="bold" text-anchor="start">Q59L</text>
<text transform="translate(419.3 949.2) rotate(-90)" font-size="9.3" font-weight="bold" text-anchor="start">Q59D</text>
<text transform="translate(441.3 949.2) rotate(-90)" font-size="9.3" font-weight="bold" text-anchor="start">Q59E</text>
<text transform="translate(462.3 949.2) rotate(-90)" font-size="9.3" font-weight="bold" text-anchor="start">Q59F</text>
<text transform="translate(485.3 949.2) rotate(-90)" font-size="9.3" font-weight="bold" text-anchor="start">Q59H</text>
<text transform="translate(508.6 949.2) rotate(-90)" font-size="9.3" font-weight="bold" text-anchor="start">Q59N</text>
<text x="289.2" y="972" font-size="9.8" font-weight="bold" text-anchor="start">ASNS</text>
<text x="286" y="1000" font-size="9.4" font-weight="bold" text-anchor="start">β-actin</text>
<text x="275.3" y="1023.4" font-size="9.9" font-weight="bold" text-anchor="start">Rel. level</text>
<text x="329.4" y="1023.4" font-size="9.9" font-weight="bold" text-anchor="middle">1.0</text>
<text x="350.2" y="1023.4" font-size="9.9" font-weight="bold" text-anchor="middle">7.8</text>
<text x="372.2" y="1023.4" font-size="9.9" font-weight="bold" text-anchor="middle">10.0</text>
<text x="393.6" y="1023.4" font-size="9.9" font-weight="bold" text-anchor="middle">10.3</text>
<text x="416.5" y="1023.4" font-size="9.9" font-weight="bold" text-anchor="middle">8.9</text>
<text x="435" y="1023.4" font-size="9.9" font-weight="bold" text-anchor="middle">8.7</text>
<text x="456.5" y="1023.4" font-size="9.9" font-weight="bold" text-anchor="middle">11.5</text>
<text x="479.2" y="1023.4" font-size="9.9" font-weight="bold" text-anchor="middle">3.5</text>
<text x="505.9" y="1023.4" font-size="9.9" font-weight="bold" text-anchor="middle">10.9</text>
<rect x="318.4" y="951.3" width="199.2" height="28" fill="#d7d7d7"/>
<g clip-path="url(#cL1)">
<rect x="322" y="963.2" width="15" height="2.6" rx="4.5" ry="1.3" fill="#777" opacity="0.5" filter="url(#b1)"/>
<rect x="343.1" y="961.9" width="18.4" height="4.8" rx="5.52" ry="2.4" fill="#000" opacity="1" filter="url(#b1)"/>
<rect x="364.6" y="962.2" width="18" height="5.2" rx="5.4" ry="2.6" fill="#000" opacity="1" filter="url(#b1)"/>
<rect x="385.4" y="962.85" width="19.2" height="5.9" rx="5.76" ry="2.95" fill="#000" opacity="1" filter="url(#b1)"/>
<rect x="407.95" y="963.5" width="16.5" height="4.4" rx="4.95" ry="2.2" fill="#000" opacity="1" filter="url(#b1)"/>
<rect x="428.5" y="963.6" width="18" height="4.6" rx="5.4" ry="2.3" fill="#000" opacity="1" filter="url(#b1)"/>
<rect x="450.2" y="963.9" width="18.4" height="6.6" rx="5.52" ry="3.3" fill="#000" opacity="1" filter="url(#b1)"/>
<rect x="495.9" y="962.2" width="19.2" height="5.6" rx="5.76" ry="2.8" fill="#000" opacity="1" filter="url(#b1)"/>
<rect x="472.5" y="965.3" width="19" height="2.4" rx="5.7" ry="1.2" fill="#555" opacity="0.6" filter="url(#b1)"/>
<rect x="473" y="965.3" width="9" height="3" rx="2.7" ry="1.5" fill="#222" opacity="0.75" filter="url(#b1)"/>
</g>
<rect x="318.4" y="951.3" width="199.2" height="28" fill="none" stroke="#8c8c8c" stroke-width="1"/>
<rect x="318.4" y="983.6" width="199.2" height="27.2" fill="#dadada"/>
<g clip-path="url(#cL2)">
<rect x="319.9" y="995.2" width="194.2" height="4.6" fill="#000" filter="url(#b1)"/>
<rect x="320" y="994.39" width="21" height="7.22" rx="6.3" ry="3.61" fill="#000" opacity="1" filter="url(#b1)"/>
<rect x="341.8" y="994.67" width="21" height="7.05" rx="6.3" ry="3.53" fill="#000" opacity="1" filter="url(#b1)"/>
<rect x="363.1" y="994.79" width="21" height="7.22" rx="6.3" ry="3.61" fill="#000" opacity="1" filter="url(#b1)"/>
<rect x="384.25" y="995.02" width="21.5" height="7.57" rx="6.45" ry="3.78" fill="#000" opacity="1" filter="url(#b1)"/>
<rect x="405.7" y="995.19" width="21" height="7.22" rx="6.3" ry="3.61" fill="#000" opacity="1" filter="url(#b1)"/>
<rect x="427" y="995.29" width="21" height="7.22" rx="6.3" ry="3.61" fill="#000" opacity="1" filter="url(#b1)"/>
<rect x="448.9" y="995.76" width="21" height="8.08" rx="6.3" ry="4.04" fill="#000" opacity="1" filter="url(#b1)"/>
<rect x="471" y="994.22" width="22" height="6.36" rx="6.6" ry="3.18" fill="#000" opacity="1" filter="url(#b1)"/>
<rect x="494" y="993.5" width="21" height="7.4" rx="6.3" ry="3.7" fill="#000" opacity="1" filter="url(#b1)"/>
</g>
<rect x="318.4" y="983.6" width="199.2" height="27.2" fill="none" stroke="#8c8c8c" stroke-width="1"/>
</g>
</svg>
</body>
</html>
